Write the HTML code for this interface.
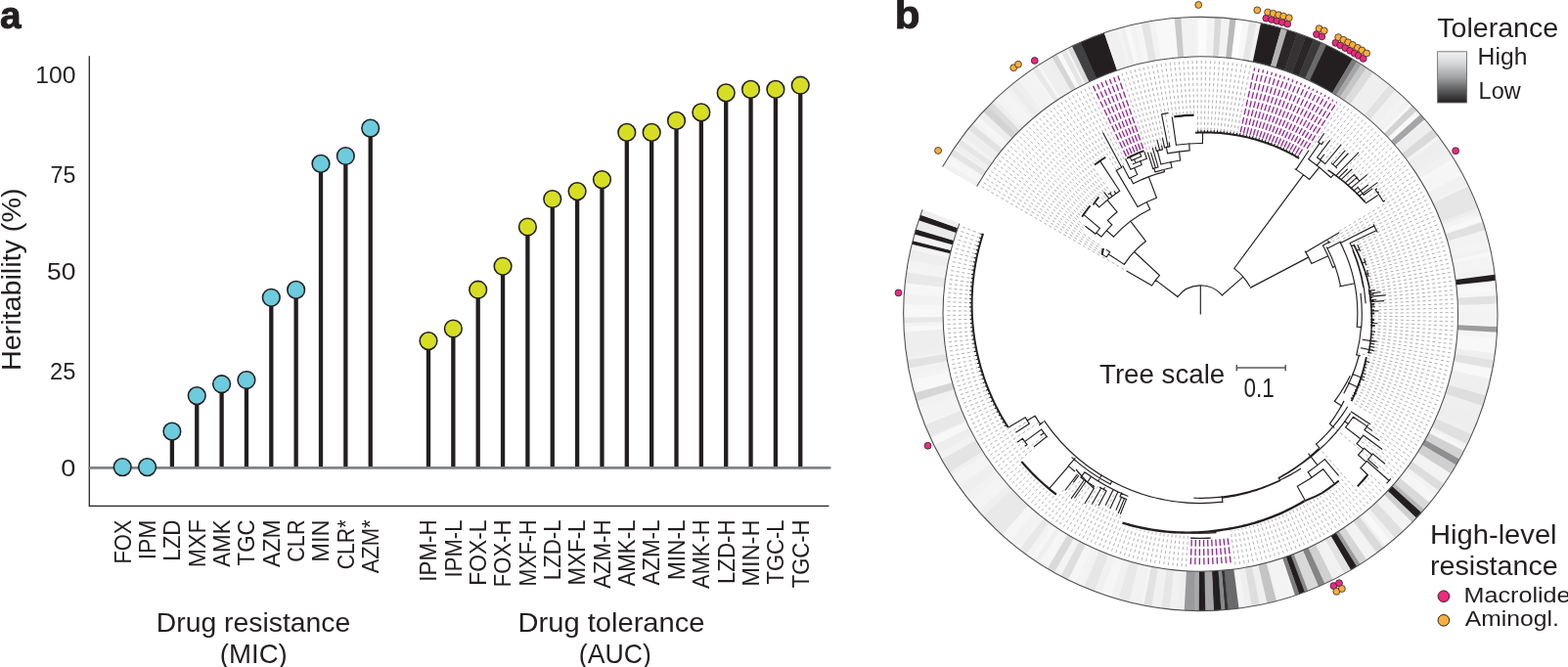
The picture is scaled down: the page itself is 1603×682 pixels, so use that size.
<!DOCTYPE html><html><head><meta charset="utf-8"><title>Heritability and phylogeny</title><style>html,body{margin:0;padding:0;background:#fff;}svg{display:block;}</style></head><body>
<svg width="1603" height="682" viewBox="0 0 1603 682">
<rect width="1603" height="682" fill="#fff"/>
<g font-family="'Liberation Sans', Arial, sans-serif" fill="#231f20">
<path d="M91.3 57.3V517.9M90.7 517.3H847.4" stroke="#231f20" stroke-width="1.25" fill="none"/>
<path d="M91.9 478.3H848.2" stroke="#808285" stroke-width="2.8" stroke-linecap="round" fill="none"/>
<text x="77.4" y="85.3" font-size="23.5" text-anchor="end" font-weight="normal" textLength="41.2" lengthAdjust="spacingAndGlyphs">100</text>
<text x="77.4" y="186.6" font-size="23.5" text-anchor="end" font-weight="normal" textLength="25.8" lengthAdjust="spacingAndGlyphs">75</text>
<text x="77.4" y="285.7" font-size="23.5" text-anchor="end" font-weight="normal" textLength="29.4" lengthAdjust="spacingAndGlyphs">50</text>
<text x="77.4" y="387.8" font-size="23.5" text-anchor="end" font-weight="normal" textLength="26.3" lengthAdjust="spacingAndGlyphs">25</text>
<text x="77.4" y="486.5" font-size="23.5" text-anchor="end" font-weight="normal" textLength="15.1" lengthAdjust="spacingAndGlyphs">0</text>
<text transform="translate(21.4 379.1) rotate(-90)" font-size="27.5" textLength="186.6" lengthAdjust="spacingAndGlyphs">Heritability (%)</text>
<path d="M175.9 441.1V477.1M201.25 404.6V477.1M226.6 392.7V477.1M251.95 388.5V477.1M277.3 304.3V477.1M302.65 296.4V477.1M328 167.4V477.1M353.35 159.5V477.1M378.7 131.1V477.1M438 348.6V477.1M463.35 336V477.1M488.7 296.2V477.1M514.05 272.3V477.1M539.4 232V477.1M564.75 203.5V477.1M590.1 195.6V477.1M615.45 183.6V477.1M640.8 135.4V477.1M666.15 135.4V477.1M691.5 123.4V477.1M716.85 114.9V477.1M742.2 94.9V477.1M767.55 91.4V477.1M792.9 91.4V477.1M818.25 87.2V477.1" stroke="#231f20" stroke-width="4.3" fill="none"/>
<circle cx="125.2" cy="477.6" r="8.85" fill="#6ccbdc" stroke="#231f20" stroke-width="1.55"/>
<circle cx="150.55" cy="477.6" r="8.85" fill="#6ccbdc" stroke="#231f20" stroke-width="1.55"/>
<circle cx="175.9" cy="441.1" r="8.85" fill="#6ccbdc" stroke="#231f20" stroke-width="1.55"/>
<circle cx="201.25" cy="404.6" r="8.85" fill="#6ccbdc" stroke="#231f20" stroke-width="1.55"/>
<circle cx="226.6" cy="392.7" r="8.85" fill="#6ccbdc" stroke="#231f20" stroke-width="1.55"/>
<circle cx="251.95" cy="388.5" r="8.85" fill="#6ccbdc" stroke="#231f20" stroke-width="1.55"/>
<circle cx="277.3" cy="304.3" r="8.85" fill="#6ccbdc" stroke="#231f20" stroke-width="1.55"/>
<circle cx="302.65" cy="296.4" r="8.85" fill="#6ccbdc" stroke="#231f20" stroke-width="1.55"/>
<circle cx="328" cy="167.4" r="8.85" fill="#6ccbdc" stroke="#231f20" stroke-width="1.55"/>
<circle cx="353.35" cy="159.5" r="8.85" fill="#6ccbdc" stroke="#231f20" stroke-width="1.55"/>
<circle cx="378.7" cy="131.1" r="8.85" fill="#6ccbdc" stroke="#231f20" stroke-width="1.55"/>
<circle cx="438" cy="348.6" r="8.85" fill="#d6de23" stroke="#231f20" stroke-width="1.55"/>
<circle cx="463.35" cy="336" r="8.85" fill="#d6de23" stroke="#231f20" stroke-width="1.55"/>
<circle cx="488.7" cy="296.2" r="8.85" fill="#d6de23" stroke="#231f20" stroke-width="1.55"/>
<circle cx="514.05" cy="272.3" r="8.85" fill="#d6de23" stroke="#231f20" stroke-width="1.55"/>
<circle cx="539.4" cy="232" r="8.85" fill="#d6de23" stroke="#231f20" stroke-width="1.55"/>
<circle cx="564.75" cy="203.5" r="8.85" fill="#d6de23" stroke="#231f20" stroke-width="1.55"/>
<circle cx="590.1" cy="195.6" r="8.85" fill="#d6de23" stroke="#231f20" stroke-width="1.55"/>
<circle cx="615.45" cy="183.6" r="8.85" fill="#d6de23" stroke="#231f20" stroke-width="1.55"/>
<circle cx="640.8" cy="135.4" r="8.85" fill="#d6de23" stroke="#231f20" stroke-width="1.55"/>
<circle cx="666.15" cy="135.4" r="8.85" fill="#d6de23" stroke="#231f20" stroke-width="1.55"/>
<circle cx="691.5" cy="123.4" r="8.85" fill="#d6de23" stroke="#231f20" stroke-width="1.55"/>
<circle cx="716.85" cy="114.9" r="8.85" fill="#d6de23" stroke="#231f20" stroke-width="1.55"/>
<circle cx="742.2" cy="94.9" r="8.85" fill="#d6de23" stroke="#231f20" stroke-width="1.55"/>
<circle cx="767.55" cy="91.4" r="8.85" fill="#d6de23" stroke="#231f20" stroke-width="1.55"/>
<circle cx="792.9" cy="91.4" r="8.85" fill="#d6de23" stroke="#231f20" stroke-width="1.55"/>
<circle cx="818.25" cy="87.2" r="8.85" fill="#d6de23" stroke="#231f20" stroke-width="1.55"/>
<text transform="translate(133.5 531.5) rotate(-90)" font-size="23.8" text-anchor="end" textLength="45.1" lengthAdjust="spacingAndGlyphs">FOX</text>
<text transform="translate(158.85 531.5) rotate(-90)" font-size="23.8" text-anchor="end" textLength="40.83" lengthAdjust="spacingAndGlyphs">IPM</text>
<text transform="translate(184.2 531.5) rotate(-90)" font-size="23.8" text-anchor="end" textLength="42.28" lengthAdjust="spacingAndGlyphs">LZD</text>
<text transform="translate(209.55 531.5) rotate(-90)" font-size="23.8" text-anchor="end" textLength="48.67" lengthAdjust="spacingAndGlyphs">MXF</text>
<text transform="translate(234.9 531.5) rotate(-90)" font-size="23.8" text-anchor="end" textLength="48.3" lengthAdjust="spacingAndGlyphs">AMK</text>
<text transform="translate(260.25 531.5) rotate(-90)" font-size="23.8" text-anchor="end" textLength="46.94" lengthAdjust="spacingAndGlyphs">TGC</text>
<text transform="translate(285.6 531.5) rotate(-90)" font-size="23.8" text-anchor="end" textLength="48.39" lengthAdjust="spacingAndGlyphs">AZM</text>
<text transform="translate(310.95 531.5) rotate(-90)" font-size="23.8" text-anchor="end" textLength="43.25" lengthAdjust="spacingAndGlyphs">CLR</text>
<text transform="translate(336.3 531.5) rotate(-90)" font-size="23.8" text-anchor="end" textLength="43.19" lengthAdjust="spacingAndGlyphs">MIN</text>
<text transform="translate(361.65 531.5) rotate(-90)" font-size="23.8" text-anchor="end" textLength="50.82" lengthAdjust="spacingAndGlyphs">CLR*</text>
<text transform="translate(387 531.5) rotate(-90)" font-size="23.8" text-anchor="end" textLength="54.85" lengthAdjust="spacingAndGlyphs">AZM*</text>
<text transform="translate(446.3 531.5) rotate(-90)" font-size="23.8" text-anchor="end" textLength="63.13" lengthAdjust="spacingAndGlyphs">IPM-H</text>
<text transform="translate(471.65 531.5) rotate(-90)" font-size="23.8" text-anchor="end" textLength="58.88" lengthAdjust="spacingAndGlyphs">IPM-L</text>
<text transform="translate(497 531.5) rotate(-90)" font-size="23.8" text-anchor="end" textLength="67.18" lengthAdjust="spacingAndGlyphs">FOX-L</text>
<text transform="translate(522.35 531.5) rotate(-90)" font-size="23.8" text-anchor="end" textLength="68.67" lengthAdjust="spacingAndGlyphs">FOX-H</text>
<text transform="translate(547.7 531.5) rotate(-90)" font-size="23.8" text-anchor="end" textLength="67.93" lengthAdjust="spacingAndGlyphs">MXF-H</text>
<text transform="translate(573.05 531.5) rotate(-90)" font-size="23.8" text-anchor="end" textLength="61.69" lengthAdjust="spacingAndGlyphs">LZD-L</text>
<text transform="translate(598.4 531.5) rotate(-90)" font-size="23.8" text-anchor="end" textLength="66.88" lengthAdjust="spacingAndGlyphs">MXF-L</text>
<text transform="translate(623.75 531.5) rotate(-90)" font-size="23.8" text-anchor="end" textLength="70.24" lengthAdjust="spacingAndGlyphs">AZM-H</text>
<text transform="translate(649.1 531.5) rotate(-90)" font-size="23.8" text-anchor="end" textLength="68.07" lengthAdjust="spacingAndGlyphs">AMK-L</text>
<text transform="translate(674.45 531.5) rotate(-90)" font-size="23.8" text-anchor="end" textLength="67.07" lengthAdjust="spacingAndGlyphs">AZM-L</text>
<text transform="translate(699.8 531.5) rotate(-90)" font-size="23.8" text-anchor="end" textLength="61.52" lengthAdjust="spacingAndGlyphs">MIN-L</text>
<text transform="translate(725.15 531.5) rotate(-90)" font-size="23.8" text-anchor="end" textLength="70.42" lengthAdjust="spacingAndGlyphs">AMK-H</text>
<text transform="translate(750.5 531.5) rotate(-90)" font-size="23.8" text-anchor="end" textLength="65.5" lengthAdjust="spacingAndGlyphs">LZD-H</text>
<text transform="translate(775.85 531.5) rotate(-90)" font-size="23.8" text-anchor="end" textLength="68.13" lengthAdjust="spacingAndGlyphs">MIN-H</text>
<text transform="translate(801.2 531.5) rotate(-90)" font-size="23.8" text-anchor="end" textLength="66.04" lengthAdjust="spacingAndGlyphs">TGC-L</text>
<text transform="translate(826.55 531.5) rotate(-90)" font-size="23.8" text-anchor="end" textLength="69.85" lengthAdjust="spacingAndGlyphs">TGC-H</text>
<text x="259" y="646" font-size="27.5" text-anchor="middle" font-weight="normal" textLength="198.5" lengthAdjust="spacingAndGlyphs">Drug resistance</text>
<text x="259.3" y="678" font-size="27.5" text-anchor="middle" font-weight="normal" textLength="69" lengthAdjust="spacingAndGlyphs">(MIC)</text>
<text x="625" y="646" font-size="27.5" text-anchor="middle" font-weight="normal" textLength="191" lengthAdjust="spacingAndGlyphs">Drug tolerance</text>
<text x="628.8" y="678" font-size="27.5" text-anchor="middle" font-weight="normal" textLength="74" lengthAdjust="spacingAndGlyphs">(AUC)</text>
<text x="0" y="28.5" font-size="39" text-anchor="start" font-weight="bold" textLength="21.6" lengthAdjust="spacingAndGlyphs" stroke="#231f20" stroke-width="0.9">a</text>
</g>
<g>
<path d="M963.58 170.58A303.6 303.6 0 1 1 943.02 214.43L980.85 228.61A263.2 263.2 0 1 0 998.68 190.6Z" fill="#f1f2f2"/>
<path d="M963.5 170.72A303.6 303.6 0 0 1 966.33 165.86L1001.06 186.51A263.2 263.2 0 0 0 998.61 190.72Z" fill="#f1f1f1"/>
<path d="M966.17 166.14A303.6 303.6 0 0 1 970.48 159.08L1004.66 180.63A263.2 263.2 0 0 0 1000.92 186.74Z" fill="#f6f6f6"/>
<path d="M970.31 159.35A303.6 303.6 0 0 1 972.77 155.51L1006.64 177.54A263.2 263.2 0 0 0 1004.51 180.86Z" fill="#f3f3f3"/>
<path d="M972.59 155.78A303.6 303.6 0 0 1 975.69 151.1L1009.17 173.71A263.2 263.2 0 0 0 1006.49 177.77Z" fill="#f6f6f6"/>
<path d="M975.52 151.36A303.6 303.6 0 0 1 981.78 142.42L1014.45 166.18A263.2 263.2 0 0 0 1009.02 173.93Z" fill="#efefef"/>
<path d="M981.59 142.68A303.6 303.6 0 0 1 984.29 139.01L1016.63 163.23A263.2 263.2 0 0 0 1014.29 166.41Z" fill="#f3f3f3"/>
<path d="M984.1 139.26A303.6 303.6 0 0 1 989.14 132.71L1020.83 157.77A263.2 263.2 0 0 0 1016.46 163.45Z" fill="#eeeeee"/>
<path d="M988.94 132.96A303.6 303.6 0 0 1 991.79 129.4L1023.13 154.9A263.2 263.2 0 0 0 1020.66 157.98Z" fill="#efefef"/>
<path d="M991.59 129.65A303.6 303.6 0 0 1 994.49 126.13L1025.47 152.06A263.2 263.2 0 0 0 1022.96 155.11Z" fill="#eeeeee"/>
<path d="M994.29 126.38A303.6 303.6 0 0 1 997.23 122.9L1027.85 149.26A263.2 263.2 0 0 0 1025.29 152.28Z" fill="#f3f3f3"/>
<path d="M997.03 123.14A303.6 303.6 0 0 1 1000.73 118.92L1030.88 145.81A263.2 263.2 0 0 0 1027.67 149.47Z" fill="#f6f6f6"/>
<path d="M1000.51 119.15A303.6 303.6 0 0 1 1007.92 111.13L1037.11 139.06A263.2 263.2 0 0 0 1030.69 146.01Z" fill="#eeeeee"/>
<path d="M1007.7 111.36A303.6 303.6 0 0 1 1010.87 108.09L1039.67 136.42A263.2 263.2 0 0 0 1036.92 139.26Z" fill="#efefef"/>
<path d="M1010.65 108.32A303.6 303.6 0 0 1 1013.86 105.09L1042.26 133.82A263.2 263.2 0 0 0 1039.48 136.62Z" fill="#f1f1f1"/>
<path d="M1013.64 105.31A303.6 303.6 0 0 1 1017.66 101.4L1045.56 130.62A263.2 263.2 0 0 0 1042.07 134.01Z" fill="#eeeeee"/>
<path d="M1017.43 101.62A303.6 303.6 0 0 1 1021.53 97.77L1048.91 127.48A263.2 263.2 0 0 0 1045.36 130.81Z" fill="#f3f3f3"/>
<path d="M1021.29 97.99A303.6 303.6 0 0 1 1029.44 90.73L1055.77 121.37A263.2 263.2 0 0 0 1048.71 127.66Z" fill="#f4f4f4"/>
<path d="M1029.2 90.93A303.6 303.6 0 0 1 1037.6 83.96L1062.84 115.5A263.2 263.2 0 0 0 1055.56 121.55Z" fill="#f1f1f1"/>
<path d="M1037.35 84.16A303.6 303.6 0 0 1 1040.93 81.34L1065.73 113.23A263.2 263.2 0 0 0 1062.63 115.68Z" fill="#efefef"/>
<path d="M1040.68 81.53A303.6 303.6 0 0 1 1045.14 78.12L1069.38 110.44A263.2 263.2 0 0 0 1065.51 113.4Z" fill="#f3f3f3"/>
<path d="M1044.89 78.31A303.6 303.6 0 0 1 1053.73 71.91L1076.82 105.06A263.2 263.2 0 0 0 1069.16 110.61Z" fill="#f3f3f3"/>
<path d="M1053.47 72.09A303.6 303.6 0 0 1 1062.53 66.01L1084.45 99.94A263.2 263.2 0 0 0 1076.6 105.21Z" fill="#f6f6f6"/>
<path d="M1062.26 66.18A303.6 303.6 0 0 1 1071.53 60.41L1092.25 95.09A263.2 263.2 0 0 0 1084.22 100.09Z" fill="#efefef"/>
<path d="M1071.25 60.57A303.6 303.6 0 0 1 1078.4 56.42L1098.21 91.63A263.2 263.2 0 0 0 1092.02 95.23Z" fill="#eeeeee"/>
<path d="M1078.12 56.58A303.6 303.6 0 0 1 1092.45 48.99L1110.4 85.19A263.2 263.2 0 0 0 1097.97 91.76Z" fill="#f8f8f8"/>
<path d="M1092.17 49.13A303.6 303.6 0 0 1 1099.62 45.55L1116.61 82.21A263.2 263.2 0 0 0 1110.15 85.31Z" fill="#f2f2f2"/>
<path d="M1099.33 45.69A303.6 303.6 0 0 1 1104.44 43.37L1120.79 80.31A263.2 263.2 0 0 0 1116.36 82.32Z" fill="#f4f4f4"/>
<path d="M1104.15 43.5A303.6 303.6 0 0 1 1109.31 41.27L1125.01 78.49A263.2 263.2 0 0 0 1120.54 80.42Z" fill="#f1f1f1"/>
<path d="M1109.02 41.39A303.6 303.6 0 0 1 1121.62 36.39L1135.69 74.26A263.2 263.2 0 0 0 1124.76 78.6Z" fill="#efefef"/>
<path d="M1121.32 36.5A303.6 303.6 0 0 1 1125.61 34.94L1139.14 73A263.2 263.2 0 0 0 1135.43 74.36Z" fill="#f4f4f4"/>
<path d="M1125.31 35.04A303.6 303.6 0 0 1 1135.65 31.56L1147.85 70.08A263.2 263.2 0 0 0 1138.88 73.1Z" fill="#f2f2f2"/>
<path d="M1135.35 31.66A303.6 303.6 0 0 1 1140.72 30.01L1152.24 68.73A263.2 263.2 0 0 0 1147.58 70.16Z" fill="#f2f2f2"/>
<path d="M1140.41 30.1A303.6 303.6 0 0 1 1145.81 28.54L1156.65 67.46A263.2 263.2 0 0 0 1151.97 68.81Z" fill="#f3f3f3"/>
<path d="M1145.5 28.63A303.6 303.6 0 0 1 1149.9 27.43L1160.2 66.5A263.2 263.2 0 0 0 1156.39 67.53Z" fill="#eeeeee"/>
<path d="M1149.59 27.51A303.6 303.6 0 0 1 1155.04 26.13L1164.65 65.36A263.2 263.2 0 0 0 1159.93 66.57Z" fill="#f8f8f8"/>
<path d="M1154.73 26.2A303.6 303.6 0 0 1 1160.19 24.91L1169.12 64.31A263.2 263.2 0 0 0 1164.38 65.43Z" fill="#f2f2f2"/>
<path d="M1159.88 24.98A303.6 303.6 0 0 1 1167.97 23.25L1175.86 62.88A263.2 263.2 0 0 0 1168.85 64.37Z" fill="#f6f6f6"/>
<path d="M1167.65 23.32A303.6 303.6 0 0 1 1181.01 20.95L1187.17 60.88A263.2 263.2 0 0 0 1175.59 62.93Z" fill="#f3f3f3"/>
<path d="M1180.7 21A303.6 303.6 0 0 1 1196.78 18.94L1200.84 59.13A263.2 263.2 0 0 0 1186.9 60.92Z" fill="#f8f8f8"/>
<path d="M1196.46 18.97A303.6 303.6 0 0 1 1202.05 18.45L1205.41 58.71A263.2 263.2 0 0 0 1200.56 59.16Z" fill="#f8f8f8"/>
<path d="M1201.74 18.48A303.6 303.6 0 0 1 1212.63 17.75L1214.58 58.11A263.2 263.2 0 0 0 1205.14 58.73Z" fill="#f2f2f2"/>
<path d="M1212.31 17.77A303.6 303.6 0 0 1 1223.22 17.43L1223.76 57.82A263.2 263.2 0 0 0 1214.31 58.12Z" fill="#f2f2f2"/>
<path d="M1222.9 17.43A303.6 303.6 0 0 1 1227.46 17.4L1227.44 57.8A263.2 263.2 0 0 0 1223.49 57.83Z" fill="#f3f3f3"/>
<path d="M1227.14 17.4A303.6 303.6 0 0 1 1232.76 17.45L1232.03 57.84A263.2 263.2 0 0 0 1227.16 57.8Z" fill="#f2f2f2"/>
<path d="M1232.44 17.44A303.6 303.6 0 0 1 1245.99 17.98L1243.51 58.3A263.2 263.2 0 0 0 1231.76 57.84Z" fill="#f3f3f3"/>
<path d="M1245.68 17.96A303.6 303.6 0 0 1 1250.22 18.27L1247.17 58.55A263.2 263.2 0 0 0 1243.23 58.28Z" fill="#f4f4f4"/>
<path d="M1249.91 18.24A303.6 303.6 0 0 1 1263.41 19.55L1258.6 59.67A263.2 263.2 0 0 0 1246.9 58.53Z" fill="#f2f2f2"/>
<path d="M1263.09 19.52A303.6 303.6 0 0 1 1268.66 20.23L1263.16 60.25A263.2 263.2 0 0 0 1258.33 59.64Z" fill="#eeeeee"/>
<path d="M1268.35 20.19A303.6 303.6 0 0 1 1281.74 22.32L1274.5 62.07A263.2 263.2 0 0 0 1262.88 60.22Z" fill="#f8f8f8"/>
<path d="M1281.43 22.26A303.6 303.6 0 0 1 1285.91 23.11L1278.11 62.75A263.2 263.2 0 0 0 1274.23 62.02Z" fill="#f2f2f2"/>
<path d="M1285.59 23.05A303.6 303.6 0 0 1 1291.1 24.18L1282.61 63.68A263.2 263.2 0 0 0 1277.84 62.7Z" fill="#f1f1f1"/>
<path d="M1290.78 24.11A303.6 303.6 0 0 1 1301.42 26.59L1291.55 65.76A263.2 263.2 0 0 0 1282.34 63.62Z" fill="#f3f3f3"/>
<path d="M1301.11 26.51A303.6 303.6 0 0 1 1309.1 28.63L1298.21 67.53A263.2 263.2 0 0 0 1291.29 65.7Z" fill="#f6f6f6"/>
<path d="M1308.79 28.54A303.6 303.6 0 0 1 1314.19 30.1L1302.63 68.81A263.2 263.2 0 0 0 1297.95 67.46Z" fill="#f4f4f4"/>
<path d="M1313.88 30.01A303.6 303.6 0 0 1 1319.25 31.66L1307.02 70.16A263.2 263.2 0 0 0 1302.36 68.73Z" fill="#efefef"/>
<path d="M1318.95 31.56A303.6 303.6 0 0 1 1326.79 34.17L1313.55 72.33A263.2 263.2 0 0 0 1306.75 70.08Z" fill="#eeeeee"/>
<path d="M1326.49 34.06A303.6 303.6 0 0 1 1341.67 39.77L1326.45 77.19A263.2 263.2 0 0 0 1313.29 72.24Z" fill="#f2f2f2"/>
<path d="M1341.37 39.65A303.6 303.6 0 0 1 1345.58 41.39L1329.84 78.6A263.2 263.2 0 0 0 1326.19 77.09Z" fill="#f1f1f1"/>
<path d="M1345.29 41.27A303.6 303.6 0 0 1 1352.86 44.58L1336.15 81.37A263.2 263.2 0 0 0 1329.59 78.49Z" fill="#eeeeee"/>
<path d="M1352.57 44.45A303.6 303.6 0 0 1 1362.43 49.13L1344.45 85.31A263.2 263.2 0 0 0 1335.9 81.25Z" fill="#f4f4f4"/>
<path d="M1362.15 48.99A303.6 303.6 0 0 1 1367.16 51.53L1348.55 87.39A263.2 263.2 0 0 0 1344.2 85.19Z" fill="#eeeeee"/>
<path d="M1366.88 51.39A303.6 303.6 0 0 1 1381.07 59.22L1360.61 94.06A263.2 263.2 0 0 0 1348.3 87.26Z" fill="#f4f4f4"/>
<path d="M1380.79 59.06A303.6 303.6 0 0 1 1392.34 66.18L1370.38 100.09A263.2 263.2 0 0 0 1360.37 93.92Z" fill="#eeeeee"/>
<path d="M1392.07 66.01A303.6 303.6 0 0 1 1396.76 69.1L1374.21 102.62A263.2 263.2 0 0 0 1370.15 99.94Z" fill="#eeeeee"/>
<path d="M1396.5 68.92A303.6 303.6 0 0 1 1401.13 72.09L1378 105.21A263.2 263.2 0 0 0 1373.98 102.46Z" fill="#f1f1f1"/>
<path d="M1400.87 71.91A303.6 303.6 0 0 1 1404.59 74.54L1381 107.34A263.2 263.2 0 0 0 1377.78 105.06Z" fill="#f1f1f1"/>
<path d="M1404.33 74.36A303.6 303.6 0 0 1 1408.87 77.68L1384.71 110.06A263.2 263.2 0 0 0 1380.78 107.18Z" fill="#efefef"/>
<path d="M1408.61 77.49A303.6 303.6 0 0 1 1419.31 85.83L1393.76 117.12A263.2 263.2 0 0 0 1384.48 109.89Z" fill="#efefef"/>
<path d="M1419.06 85.63A303.6 303.6 0 0 1 1422.57 88.53L1396.59 119.47A263.2 263.2 0 0 0 1393.54 116.95Z" fill="#f2f2f2"/>
<path d="M1422.33 88.33A303.6 303.6 0 0 1 1434.47 99.07L1406.9 128.6A263.2 263.2 0 0 0 1396.38 119.29Z" fill="#f1f1f1"/>
<path d="M1434.24 98.85A303.6 303.6 0 0 1 1438.31 102.72L1410.23 131.77A263.2 263.2 0 0 0 1406.7 128.41Z" fill="#f4f4f4"/>
<path d="M1438.08 102.5A303.6 303.6 0 0 1 1441.34 105.69L1412.86 134.34A263.2 263.2 0 0 0 1410.03 131.57Z" fill="#f1f1f1"/>
<path d="M1441.11 105.46A303.6 303.6 0 0 1 1446.9 111.36L1417.68 139.26A263.2 263.2 0 0 0 1412.66 134.14Z" fill="#f8f8f8"/>
<path d="M1446.68 111.13A303.6 303.6 0 0 1 1454.09 119.15L1423.91 146.01A263.2 263.2 0 0 0 1417.49 139.06Z" fill="#f8f8f8"/>
<path d="M1453.87 118.92A303.6 303.6 0 0 1 1457.57 123.14L1426.93 149.47A263.2 263.2 0 0 0 1423.72 145.81Z" fill="#f6f6f6"/>
<path d="M1457.37 122.9A303.6 303.6 0 0 1 1462.67 129.24L1431.35 154.76A263.2 263.2 0 0 0 1426.75 149.26Z" fill="#eeeeee"/>
<path d="M1462.47 128.99A303.6 303.6 0 0 1 1467.61 135.47L1435.63 160.16A263.2 263.2 0 0 0 1431.18 154.54Z" fill="#eeeeee"/>
<path d="M1467.42 135.21A303.6 303.6 0 0 1 1472.39 141.82L1439.77 165.66A263.2 263.2 0 0 0 1435.47 159.94Z" fill="#f3f3f3"/>
<path d="M1472.2 141.56A303.6 303.6 0 0 1 1476.99 148.3L1443.77 171.28A263.2 263.2 0 0 0 1439.61 165.44Z" fill="#eeeeee"/>
<path d="M1476.81 148.04A303.6 303.6 0 0 1 1479.38 151.8L1445.84 174.32A263.2 263.2 0 0 0 1443.61 171.05Z" fill="#efefef"/>
<path d="M1479.2 151.54A303.6 303.6 0 0 1 1481.72 155.34L1447.86 177.38A263.2 263.2 0 0 0 1445.68 174.09Z" fill="#efefef"/>
<path d="M1481.54 155.07A303.6 303.6 0 0 1 1485.97 162.05L1451.55 183.2A263.2 263.2 0 0 0 1447.71 177.15Z" fill="#f1f1f1"/>
<path d="M1485.8 161.78A303.6 303.6 0 0 1 1488.16 165.68L1453.45 186.35A263.2 263.2 0 0 0 1451.4 182.97Z" fill="#f8f8f8"/>
<path d="M1488 165.41A303.6 303.6 0 0 1 1493.42 174.88L1458.01 194.32A263.2 263.2 0 0 0 1453.31 186.11Z" fill="#f6f6f6"/>
<path d="M1493.27 174.6A303.6 303.6 0 0 1 1495.44 178.61L1459.76 197.56A263.2 263.2 0 0 0 1457.88 194.08Z" fill="#f6f6f6"/>
<path d="M1495.29 178.33A303.6 303.6 0 0 1 1500.24 188.05L1463.92 205.74A263.2 263.2 0 0 0 1459.63 197.31Z" fill="#f1f1f1"/>
<path d="M1500.1 187.77A303.6 303.6 0 0 1 1504.72 197.66L1467.8 214.07A263.2 263.2 0 0 0 1463.8 205.5Z" fill="#f3f3f3"/>
<path d="M1504.59 197.37A303.6 303.6 0 0 1 1506.83 202.52L1469.63 218.29A263.2 263.2 0 0 0 1467.69 213.82Z" fill="#f6f6f6"/>
<path d="M1506.7 202.23A303.6 303.6 0 0 1 1508.45 206.43L1471.04 221.68A263.2 263.2 0 0 0 1469.52 218.03Z" fill="#efefef"/>
<path d="M1508.33 206.14A303.6 303.6 0 0 1 1512.28 216.32L1474.36 230.25A263.2 263.2 0 0 0 1470.94 221.42Z" fill="#eeeeee"/>
<path d="M1512.17 216.02A303.6 303.6 0 0 1 1514.06 221.31L1475.91 234.57A263.2 263.2 0 0 0 1474.26 229.99Z" fill="#f4f4f4"/>
<path d="M1513.96 221.01A303.6 303.6 0 0 1 1515.76 226.33L1477.38 238.92A263.2 263.2 0 0 0 1475.81 234.31Z" fill="#f8f8f8"/>
<path d="M1515.66 226.02A303.6 303.6 0 0 1 1518.14 233.91L1479.44 245.5A263.2 263.2 0 0 0 1477.29 238.66Z" fill="#f3f3f3"/>
<path d="M1518.05 233.61A303.6 303.6 0 0 1 1519.33 237.98L1480.47 249.03A263.2 263.2 0 0 0 1479.36 245.23Z" fill="#f2f2f2"/>
<path d="M1519.24 237.67A303.6 303.6 0 0 1 1521.4 245.65L1482.27 255.68A263.2 263.2 0 0 0 1480.39 248.76Z" fill="#f2f2f2"/>
<path d="M1521.32 245.34A303.6 303.6 0 0 1 1523.27 253.38L1483.89 262.37A263.2 263.2 0 0 0 1482.2 255.41Z" fill="#f4f4f4"/>
<path d="M1523.2 253.07A303.6 303.6 0 0 1 1524.19 257.52L1484.68 265.96A263.2 263.2 0 0 0 1483.83 262.11Z" fill="#f1f1f1"/>
<path d="M1524.12 257.2A303.6 303.6 0 0 1 1525.05 261.67L1485.42 269.56A263.2 263.2 0 0 0 1484.62 265.69Z" fill="#f8f8f8"/>
<path d="M1524.98 261.35A303.6 303.6 0 0 1 1527.35 274.71L1487.42 280.87A263.2 263.2 0 0 0 1485.37 269.29Z" fill="#f4f4f4"/>
<path d="M1527.3 274.4A303.6 303.6 0 0 1 1528.46 282.58L1488.38 287.69A263.2 263.2 0 0 0 1487.38 280.6Z" fill="#f1f1f1"/>
<path d="M1528.42 282.27A303.6 303.6 0 0 1 1529.62 293.11L1489.39 296.83A263.2 263.2 0 0 0 1488.35 287.42Z" fill="#f6f6f6"/>
<path d="M1529.59 292.8A303.6 303.6 0 0 1 1530.06 298.39L1489.77 301.4A263.2 263.2 0 0 0 1489.36 296.55Z" fill="#f8f8f8"/>
<path d="M1530.03 298.08A303.6 303.6 0 0 1 1530.41 303.68L1490.07 305.99A263.2 263.2 0 0 0 1489.75 301.13Z" fill="#f6f6f6"/>
<path d="M1530.39 303.36A303.6 303.6 0 0 1 1530.9 319.57L1490.5 319.76A263.2 263.2 0 0 0 1490.06 305.71Z" fill="#f4f4f4"/>
<path d="M1530.89 319.25A303.6 303.6 0 0 1 1530.67 332.81L1490.3 331.24A263.2 263.2 0 0 0 1490.5 319.48Z" fill="#f3f3f3"/>
<path d="M1530.68 332.5A303.6 303.6 0 0 1 1529.87 346.03L1489.6 342.7A263.2 263.2 0 0 0 1490.31 330.97Z" fill="#f4f4f4"/>
<path d="M1529.89 345.72A303.6 303.6 0 0 1 1528.81 356.58L1488.69 351.84A263.2 263.2 0 0 0 1489.63 342.43Z" fill="#f8f8f8"/>
<path d="M1528.85 356.26A303.6 303.6 0 0 1 1528.14 361.84L1488.11 356.4A263.2 263.2 0 0 0 1488.72 351.57Z" fill="#f8f8f8"/>
<path d="M1528.18 361.52A303.6 303.6 0 0 1 1525.59 377.52L1485.9 370A263.2 263.2 0 0 0 1488.15 356.13Z" fill="#efefef"/>
<path d="M1525.65 377.21A303.6 303.6 0 0 1 1523.44 387.9L1484.03 379A263.2 263.2 0 0 0 1485.95 369.73Z" fill="#f8f8f8"/>
<path d="M1523.51 387.59A303.6 303.6 0 0 1 1520.24 400.75L1481.26 390.14A263.2 263.2 0 0 0 1484.09 378.73Z" fill="#efefef"/>
<path d="M1520.32 400.45A303.6 303.6 0 0 1 1517.28 410.93L1478.69 398.96A263.2 263.2 0 0 0 1481.33 389.88Z" fill="#efefef"/>
<path d="M1517.37 410.63A303.6 303.6 0 0 1 1512.17 425.98L1474.26 412.01A263.2 263.2 0 0 0 1478.77 398.7Z" fill="#efefef"/>
<path d="M1512.28 425.68A303.6 303.6 0 0 1 1506.29 440.75L1469.16 424.81A263.2 263.2 0 0 0 1474.36 411.75Z" fill="#eeeeee"/>
<path d="M1506.41 440.45A303.6 303.6 0 0 1 1500.8 452.8L1464.4 435.26A263.2 263.2 0 0 0 1469.27 424.56Z" fill="#efefef"/>
<path d="M1500.94 452.52A303.6 303.6 0 0 1 1498.46 457.56L1462.37 439.38A263.2 263.2 0 0 0 1464.52 435.01Z" fill="#f2f2f2"/>
<path d="M1498.6 457.27A303.6 303.6 0 0 1 1496.03 462.27L1460.27 443.47A263.2 263.2 0 0 0 1462.5 439.14Z" fill="#f6f6f6"/>
<path d="M1496.18 461.99A303.6 303.6 0 0 1 1494.03 466.01L1458.54 446.71A263.2 263.2 0 0 0 1460.4 443.22Z" fill="#f4f4f4"/>
<path d="M1494.18 465.73A303.6 303.6 0 0 1 1490.15 472.94L1455.17 452.72A263.2 263.2 0 0 0 1458.67 446.47Z" fill="#f4f4f4"/>
<path d="M1490.3 472.66A303.6 303.6 0 0 1 1487.45 477.5L1452.84 456.68A263.2 263.2 0 0 0 1455.31 452.48Z" fill="#f8f8f8"/>
<path d="M1487.62 477.23A303.6 303.6 0 0 1 1483.27 484.26L1449.21 462.53A263.2 263.2 0 0 0 1452.98 456.44Z" fill="#f8f8f8"/>
<path d="M1483.44 483.99A303.6 303.6 0 0 1 1480.38 488.7L1446.7 466.38A263.2 263.2 0 0 0 1449.35 462.3Z" fill="#f3f3f3"/>
<path d="M1480.56 488.44A303.6 303.6 0 0 1 1477.41 493.09L1444.13 470.19A263.2 263.2 0 0 0 1446.85 466.15Z" fill="#f3f3f3"/>
<path d="M1477.59 492.83A303.6 303.6 0 0 1 1474.37 497.43L1441.5 473.95A263.2 263.2 0 0 0 1444.29 469.96Z" fill="#f2f2f2"/>
<path d="M1474.56 497.17A303.6 303.6 0 0 1 1471.26 501.72L1438.79 477.67A263.2 263.2 0 0 0 1441.66 473.73Z" fill="#f8f8f8"/>
<path d="M1471.45 501.46A303.6 303.6 0 0 1 1468.07 505.95L1436.03 481.34A263.2 263.2 0 0 0 1438.96 477.45Z" fill="#f2f2f2"/>
<path d="M1468.26 505.69A303.6 303.6 0 0 1 1461.46 514.24L1430.3 488.52A263.2 263.2 0 0 0 1436.19 481.12Z" fill="#f6f6f6"/>
<path d="M1461.67 513.99A303.6 303.6 0 0 1 1456.33 520.3L1425.85 493.78A263.2 263.2 0 0 0 1430.48 488.31Z" fill="#f8f8f8"/>
<path d="M1456.53 520.06A303.6 303.6 0 0 1 1445.58 532.01L1416.53 503.93A263.2 263.2 0 0 0 1426.03 493.57Z" fill="#f3f3f3"/>
<path d="M1445.8 531.78A303.6 303.6 0 0 1 1434.24 543.15L1406.7 513.59A263.2 263.2 0 0 0 1416.73 503.73Z" fill="#f3f3f3"/>
<path d="M1434.47 542.93A303.6 303.6 0 0 1 1428.35 548.49L1401.6 518.22A263.2 263.2 0 0 0 1406.9 513.4Z" fill="#efefef"/>
<path d="M1428.59 548.28A303.6 303.6 0 0 1 1422.33 553.67L1396.38 522.71A263.2 263.2 0 0 0 1401.8 518.03Z" fill="#f1f1f1"/>
<path d="M1422.57 553.47A303.6 303.6 0 0 1 1416.17 558.7L1391.04 527.07A263.2 263.2 0 0 0 1396.59 522.53Z" fill="#f8f8f8"/>
<path d="M1416.42 558.5A303.6 303.6 0 0 1 1412.83 561.31L1388.14 529.33A263.2 263.2 0 0 0 1391.25 526.9Z" fill="#eeeeee"/>
<path d="M1413.09 561.12A303.6 303.6 0 0 1 1406.48 566.09L1382.64 533.47A263.2 263.2 0 0 0 1388.36 529.17Z" fill="#eeeeee"/>
<path d="M1406.74 565.9A303.6 303.6 0 0 1 1395.62 573.67L1373.22 540.05A263.2 263.2 0 0 0 1382.86 533.31Z" fill="#f3f3f3"/>
<path d="M1395.88 573.49A303.6 303.6 0 0 1 1384.44 580.77L1363.53 546.2A263.2 263.2 0 0 0 1373.45 539.89Z" fill="#f1f1f1"/>
<path d="M1384.71 580.61A303.6 303.6 0 0 1 1379.88 583.47L1359.58 548.55A263.2 263.2 0 0 0 1363.76 546.06Z" fill="#f1f1f1"/>
<path d="M1380.15 583.31A303.6 303.6 0 0 1 1376.2 585.58L1356.39 550.37A263.2 263.2 0 0 0 1359.81 548.41Z" fill="#f1f1f1"/>
<path d="M1376.48 585.42A303.6 303.6 0 0 1 1366.88 590.61L1348.3 554.74A263.2 263.2 0 0 0 1356.63 550.24Z" fill="#f2f2f2"/>
<path d="M1367.16 590.47A303.6 303.6 0 0 1 1352.57 597.55L1335.9 560.75A263.2 263.2 0 0 0 1348.55 554.61Z" fill="#f1f1f1"/>
<path d="M1352.86 597.42A303.6 303.6 0 0 1 1342.85 601.75L1327.47 564.39A263.2 263.2 0 0 0 1336.15 560.63Z" fill="#f2f2f2"/>
<path d="M1343.14 601.63A303.6 303.6 0 0 1 1330.49 606.53L1316.76 568.53A263.2 263.2 0 0 0 1327.73 564.29Z" fill="#f8f8f8"/>
<path d="M1330.79 606.42A303.6 303.6 0 0 1 1325.49 608.28L1312.42 570.05A263.2 263.2 0 0 0 1317.02 568.44Z" fill="#f1f1f1"/>
<path d="M1325.79 608.18A303.6 303.6 0 0 1 1321.47 609.63L1308.94 571.22A263.2 263.2 0 0 0 1312.69 569.96Z" fill="#f6f6f6"/>
<path d="M1321.77 609.53A303.6 303.6 0 0 1 1306.24 614.16L1295.73 575.15A263.2 263.2 0 0 0 1309.2 571.13Z" fill="#f3f3f3"/>
<path d="M1306.54 614.08A303.6 303.6 0 0 1 1295.96 616.74L1286.82 577.38A263.2 263.2 0 0 0 1296 575.08Z" fill="#f1f1f1"/>
<path d="M1296.27 616.66A303.6 303.6 0 0 1 1288.19 618.43L1280.09 578.85A263.2 263.2 0 0 0 1287.09 577.32Z" fill="#efefef"/>
<path d="M1288.5 618.37A303.6 303.6 0 0 1 1272.54 621.21L1266.52 581.26A263.2 263.2 0 0 0 1280.36 578.8Z" fill="#efefef"/>
<path d="M1272.86 621.16A303.6 303.6 0 0 1 1268.35 621.81L1262.88 581.78A263.2 263.2 0 0 0 1266.79 581.22Z" fill="#f4f4f4"/>
<path d="M1268.66 621.77A303.6 303.6 0 0 1 1263.09 622.48L1258.33 582.36A263.2 263.2 0 0 0 1263.16 581.75Z" fill="#f4f4f4"/>
<path d="M1263.41 622.45A303.6 303.6 0 0 1 1252.55 623.55L1249.19 583.29A263.2 263.2 0 0 0 1258.6 582.33Z" fill="#efefef"/>
<path d="M1252.86 623.52A303.6 303.6 0 0 1 1236.68 624.46L1235.43 584.07A263.2 263.2 0 0 0 1249.46 583.27Z" fill="#f8f8f8"/>
<path d="M1237 624.45A303.6 303.6 0 0 1 1231.38 624.57L1230.84 584.18A263.2 263.2 0 0 0 1235.71 584.07Z" fill="#eeeeee"/>
<path d="M1231.7 624.57A303.6 303.6 0 0 1 1215.49 624.37L1217.06 584A263.2 263.2 0 0 0 1231.11 584.17Z" fill="#f1f1f1"/>
<path d="M1215.8 624.38A303.6 303.6 0 0 1 1211.25 624.18L1213.39 583.83A263.2 263.2 0 0 0 1217.33 584.01Z" fill="#f8f8f8"/>
<path d="M1211.57 624.19A303.6 303.6 0 0 1 1203.32 623.65L1206.51 583.38A263.2 263.2 0 0 0 1213.66 583.85Z" fill="#eeeeee"/>
<path d="M1203.64 623.68A303.6 303.6 0 0 1 1187.51 621.98L1192.81 581.93A263.2 263.2 0 0 0 1206.79 583.4Z" fill="#f1f1f1"/>
<path d="M1187.83 622.02A303.6 303.6 0 0 1 1177.03 620.41L1183.72 580.57A263.2 263.2 0 0 0 1193.08 581.97Z" fill="#f1f1f1"/>
<path d="M1177.35 620.46A303.6 303.6 0 0 1 1166.62 618.47L1174.69 578.89A263.2 263.2 0 0 0 1184 580.61Z" fill="#f6f6f6"/>
<path d="M1166.93 618.54A303.6 303.6 0 0 1 1151.13 614.89L1161.27 575.78A263.2 263.2 0 0 0 1174.96 578.94Z" fill="#f2f2f2"/>
<path d="M1151.44 614.97A303.6 303.6 0 0 1 1135.85 610.5L1148.02 571.98A263.2 263.2 0 0 0 1161.53 575.85Z" fill="#f1f1f1"/>
<path d="M1136.16 610.6A303.6 303.6 0 0 1 1125.81 607.13L1139.31 569.06A263.2 263.2 0 0 0 1148.29 572.06Z" fill="#f6f6f6"/>
<path d="M1126.11 607.24A303.6 303.6 0 0 1 1110.97 601.43L1126.45 564.11A263.2 263.2 0 0 0 1139.57 569.15Z" fill="#f1f1f1"/>
<path d="M1111.26 601.55A303.6 303.6 0 0 1 1106.09 599.36L1122.22 562.32A263.2 263.2 0 0 0 1126.71 564.22Z" fill="#f1f1f1"/>
<path d="M1106.39 599.48A303.6 303.6 0 0 1 1098.85 596.09L1115.94 559.48A263.2 263.2 0 0 0 1122.48 562.43Z" fill="#f3f3f3"/>
<path d="M1099.14 596.22A303.6 303.6 0 0 1 1089.33 591.44L1107.69 555.45A263.2 263.2 0 0 0 1116.19 559.6Z" fill="#f6f6f6"/>
<path d="M1089.61 591.58A303.6 303.6 0 0 1 1084.63 588.99L1103.61 553.33A263.2 263.2 0 0 0 1107.93 555.58Z" fill="#f2f2f2"/>
<path d="M1084.91 589.14A303.6 303.6 0 0 1 1070.8 581.15L1091.62 546.54A263.2 263.2 0 0 0 1103.86 553.46Z" fill="#f3f3f3"/>
<path d="M1071.07 581.32A303.6 303.6 0 0 1 1061.81 575.53L1083.84 541.66A263.2 263.2 0 0 0 1091.86 546.68Z" fill="#f6f6f6"/>
<path d="M1062.08 575.71A303.6 303.6 0 0 1 1057.4 572.61L1080.01 539.13A263.2 263.2 0 0 0 1084.07 541.81Z" fill="#efefef"/>
<path d="M1057.66 572.78A303.6 303.6 0 0 1 1053.03 569.6L1076.22 536.52A263.2 263.2 0 0 0 1080.23 539.28Z" fill="#f6f6f6"/>
<path d="M1053.29 569.79A303.6 303.6 0 0 1 1040.26 560.14L1065.15 528.32A263.2 263.2 0 0 0 1076.45 536.68Z" fill="#f3f3f3"/>
<path d="M1040.51 560.34A303.6 303.6 0 0 1 1032.03 553.47L1058.01 522.53A263.2 263.2 0 0 0 1065.37 528.49Z" fill="#f2f2f2"/>
<path d="M1032.27 553.67A303.6 303.6 0 0 1 1024.03 546.51L1051.08 516.5A263.2 263.2 0 0 0 1058.22 522.71Z" fill="#f6f6f6"/>
<path d="M1024.27 546.73A303.6 303.6 0 0 1 1012.51 535.57L1041.09 507.01A263.2 263.2 0 0 0 1051.29 516.69Z" fill="#f3f3f3"/>
<path d="M1012.73 535.79A303.6 303.6 0 0 1 1006.97 529.87L1036.29 502.07A263.2 263.2 0 0 0 1041.29 507.21Z" fill="#f8f8f8"/>
<path d="M1007.19 530.1A303.6 303.6 0 0 1 999.81 522.05L1030.08 495.3A263.2 263.2 0 0 0 1036.48 502.27Z" fill="#efefef"/>
<path d="M1000.02 522.29A303.6 303.6 0 0 1 991.26 511.94L1022.67 486.53A263.2 263.2 0 0 0 1030.27 495.5Z" fill="#f4f4f4"/>
<path d="M991.46 512.19A303.6 303.6 0 0 1 986.34 505.69L1018.41 481.12A263.2 263.2 0 0 0 1022.84 486.74Z" fill="#f2f2f2"/>
<path d="M986.53 505.95A303.6 303.6 0 0 1 980.04 497.17L1012.94 473.73A263.2 263.2 0 0 0 1018.57 481.34Z" fill="#efefef"/>
<path d="M980.23 497.43A303.6 303.6 0 0 1 972.59 486.22L1006.49 464.23A263.2 263.2 0 0 0 1013.1 473.95Z" fill="#f4f4f4"/>
<path d="M972.77 486.49A303.6 303.6 0 0 1 966.98 477.23L1001.62 456.44A263.2 263.2 0 0 0 1006.64 464.46Z" fill="#efefef"/>
<path d="M967.15 477.5A303.6 303.6 0 0 1 959.16 463.39L994.84 444.44A263.2 263.2 0 0 0 1001.76 456.68Z" fill="#f2f2f2"/>
<path d="M959.31 463.67A303.6 303.6 0 0 1 956.72 458.69L992.72 440.37A263.2 263.2 0 0 0 994.97 444.69Z" fill="#eeeeee"/>
<path d="M956.86 458.97A303.6 303.6 0 0 1 954.82 454.9L991.08 437.08A263.2 263.2 0 0 0 992.85 440.61Z" fill="#eeeeee"/>
<path d="M954.96 455.18A303.6 303.6 0 0 1 951.41 447.72L988.12 430.86A263.2 263.2 0 0 0 991.2 437.33Z" fill="#f8f8f8"/>
<path d="M951.54 448.01A303.6 303.6 0 0 1 949.67 443.86L986.61 427.51A263.2 263.2 0 0 0 988.24 431.11Z" fill="#efefef"/>
<path d="M949.8 444.15A303.6 303.6 0 0 1 946.55 436.55L983.91 421.17A263.2 263.2 0 0 0 986.72 427.76Z" fill="#f3f3f3"/>
<path d="M946.67 436.84A303.6 303.6 0 0 1 944.57 431.63L982.2 416.91A263.2 263.2 0 0 0 984.01 421.43Z" fill="#f4f4f4"/>
<path d="M944.69 431.92A303.6 303.6 0 0 1 939.17 416.68L977.51 403.95A263.2 263.2 0 0 0 982.3 417.16Z" fill="#f3f3f3"/>
<path d="M939.27 416.98A303.6 303.6 0 0 1 934.56 401.47L973.51 390.76A263.2 263.2 0 0 0 977.6 404.21Z" fill="#f1f1f1"/>
<path d="M934.64 401.78A303.6 303.6 0 0 1 931.33 388.62L970.71 379.63A263.2 263.2 0 0 0 973.59 391.03Z" fill="#f8f8f8"/>
<path d="M931.4 388.93A303.6 303.6 0 0 1 930.19 383.45L969.73 375.14A263.2 263.2 0 0 0 970.77 379.89Z" fill="#f4f4f4"/>
<path d="M930.26 383.76A303.6 303.6 0 0 1 929.15 378.25L968.82 370.63A263.2 263.2 0 0 0 969.78 375.41Z" fill="#f2f2f2"/>
<path d="M929.21 378.57A303.6 303.6 0 0 1 928.19 373.04L968 366.12A263.2 263.2 0 0 0 968.87 370.91Z" fill="#f3f3f3"/>
<path d="M928.25 373.35A303.6 303.6 0 0 1 926.93 365.19L966.9 359.31A263.2 263.2 0 0 0 968.04 366.39Z" fill="#f2f2f2"/>
<path d="M926.98 365.51A303.6 303.6 0 0 1 926.21 359.94L966.27 354.76A263.2 263.2 0 0 0 966.94 359.59Z" fill="#efefef"/>
<path d="M926.25 360.26A303.6 303.6 0 0 1 925.57 354.68L965.72 350.2A263.2 263.2 0 0 0 966.31 355.04Z" fill="#eeeeee"/>
<path d="M925.61 355A303.6 303.6 0 0 1 924.58 344.13L964.87 341.06A263.2 263.2 0 0 0 965.76 350.48Z" fill="#eeeeee"/>
<path d="M924.61 344.45A303.6 303.6 0 0 1 924.23 338.85L964.56 336.47A263.2 263.2 0 0 0 964.89 341.33Z" fill="#eeeeee"/>
<path d="M924.24 339.16A303.6 303.6 0 0 1 923.96 333.55L964.33 331.88A263.2 263.2 0 0 0 964.57 336.75Z" fill="#f8f8f8"/>
<path d="M923.97 333.87A303.6 303.6 0 0 1 923.79 328.26L964.18 327.29A263.2 263.2 0 0 0 964.34 332.16Z" fill="#f3f3f3"/>
<path d="M923.79 328.58A303.6 303.6 0 0 1 923.76 315.01L964.15 315.81A263.2 263.2 0 0 0 964.18 327.57Z" fill="#f8f8f8"/>
<path d="M923.75 315.33A303.6 303.6 0 0 1 923.87 310.78L964.25 312.14A263.2 263.2 0 0 0 964.15 316.09Z" fill="#f8f8f8"/>
<path d="M923.86 311.09A303.6 303.6 0 0 1 924.41 300.19L964.72 302.96A263.2 263.2 0 0 0 964.24 312.41Z" fill="#f2f2f2"/>
<path d="M924.39 300.51A303.6 303.6 0 0 1 925.06 292.27L965.28 296.09A263.2 263.2 0 0 0 964.7 303.24Z" fill="#f6f6f6"/>
<path d="M925.03 292.59A303.6 303.6 0 0 1 925.92 284.37L966.02 289.24A263.2 263.2 0 0 0 965.26 296.37Z" fill="#f8f8f8"/>
<path d="M925.88 284.68A303.6 303.6 0 0 1 927.38 273.87L967.29 280.14A263.2 263.2 0 0 0 965.99 289.52Z" fill="#f4f4f4"/>
<path d="M927.33 274.19A303.6 303.6 0 0 1 929.21 263.43L968.87 271.09A263.2 263.2 0 0 0 967.25 280.42Z" fill="#f3f3f3"/>
<path d="M929.15 263.75A303.6 303.6 0 0 1 930.04 259.28L969.6 267.49A263.2 263.2 0 0 0 968.82 271.37Z" fill="#efefef"/>
<path d="M929.98 259.59A303.6 303.6 0 0 1 930.93 255.13L970.37 263.9A263.2 263.2 0 0 0 969.54 267.76Z" fill="#f3f3f3"/>
<path d="M930.86 255.44A303.6 303.6 0 0 1 932.13 249.97L971.4 259.42A263.2 263.2 0 0 0 970.31 264.17Z" fill="#f4f4f4"/>
<path d="M932.05 250.28A303.6 303.6 0 0 1 933.15 245.86L972.29 255.86A263.2 263.2 0 0 0 971.34 259.69Z" fill="#f1f1f1"/>
<path d="M933.07 246.17A303.6 303.6 0 0 1 934.5 240.73L973.46 251.42A263.2 263.2 0 0 0 972.22 256.12Z" fill="#f1f1f1"/>
<path d="M934.42 241.04A303.6 303.6 0 0 1 939.1 225.52L977.45 238.23A263.2 263.2 0 0 0 973.39 251.68Z" fill="#eeeeee"/>
<path d="M939 225.82A303.6 303.6 0 0 1 943.08 214.28L980.9 228.48A263.2 263.2 0 0 0 977.37 238.49Z" fill="#f4f4f4"/>
<path d="M971.16 158.01A303.6 303.6 0 0 1 974.81 152.42L1008.41 174.85A263.2 263.2 0 0 0 1005.25 179.7Z" fill="#e4e4e4"/>
<path d="M978.51 146.99A303.6 303.6 0 0 1 981.78 142.42L1014.45 166.18A263.2 263.2 0 0 0 1011.62 170.15Z" fill="#e6e6e6"/>
<path d="M989.6 132.13A303.6 303.6 0 0 1 993.81 126.95L1024.88 152.77A263.2 263.2 0 0 0 1021.23 157.26Z" fill="#e2e2e2"/>
<path d="M1005.15 114.06A303.6 303.6 0 0 1 1010.5 108.47L1039.35 136.75A263.2 263.2 0 0 0 1034.71 141.6Z" fill="#d3d3d3"/>
<path d="M1010.27 108.7A303.6 303.6 0 0 1 1014.24 104.72L1042.59 133.5A263.2 263.2 0 0 0 1039.15 136.95Z" fill="#dcdcdc"/>
<path d="M1032.03 88.53A303.6 303.6 0 0 1 1036.36 84.96L1061.77 116.37A263.2 263.2 0 0 0 1058.01 119.47Z" fill="#ececec"/>
<path d="M1055.21 70.89A303.6 303.6 0 0 1 1059.86 67.74L1082.15 101.45A263.2 263.2 0 0 0 1078.11 104.17Z" fill="#e8e8e8"/>
<path d="M1075.36 58.15A303.6 303.6 0 0 1 1080.25 55.39L1099.82 90.73A263.2 263.2 0 0 0 1095.58 93.13Z" fill="#d5d5d5"/>
<path d="M1084.63 53.01A303.6 303.6 0 0 1 1089.61 50.42L1107.93 86.42A263.2 263.2 0 0 0 1103.61 88.67Z" fill="#e6e6e6"/>
<path d="M1091.22 49.61A303.6 303.6 0 0 1 1096.26 47.13L1113.7 83.58A263.2 263.2 0 0 0 1109.33 85.72Z" fill="#dcdcdc"/>
<path d="M1095.98 47.27A303.6 303.6 0 0 1 1104.93 43.15L1121.21 80.13A263.2 263.2 0 0 0 1113.45 83.7Z" fill="#414042"/>
<path d="M1104.64 43.28A303.6 303.6 0 0 1 1129.11 33.72L1142.18 71.95A263.2 263.2 0 0 0 1120.96 80.24Z" fill="#231f20"/>
<path d="M1128.81 33.82A303.6 303.6 0 0 1 1141.23 29.86L1152.68 68.6A263.2 263.2 0 0 0 1141.91 72.04Z" fill="#f0f0f0"/>
<path d="M1166.62 23.53A303.6 303.6 0 0 1 1174.74 21.98L1181.73 61.77A263.2 263.2 0 0 0 1174.69 63.11Z" fill="#e4e4e4"/>
<path d="M1200.68 18.57A303.6 303.6 0 0 1 1207.34 18.06L1209.99 58.37A263.2 263.2 0 0 0 1204.22 58.81Z" fill="#c9c9c9"/>
<path d="M1224.49 17.41A303.6 303.6 0 0 1 1233.82 17.47L1232.95 57.86A263.2 263.2 0 0 0 1224.87 57.81Z" fill="#fbfbfb"/>
<path d="M1241.97 17.75A303.6 303.6 0 0 1 1248.64 18.15L1245.8 58.45A263.2 263.2 0 0 0 1240.02 58.11Z" fill="#d9d9d9"/>
<path d="M1257.3 18.89A303.6 303.6 0 0 1 1263.93 19.62L1259.06 59.72A263.2 263.2 0 0 0 1253.3 59.09Z" fill="#b9b9b9"/>
<path d="M1263.62 19.58A303.6 303.6 0 0 1 1270.76 20.53L1264.98 60.51A263.2 263.2 0 0 0 1258.78 59.69Z" fill="#fdfdfd"/>
<path d="M1277.25 21.54A303.6 303.6 0 0 1 1284.35 22.81L1276.75 62.49A263.2 263.2 0 0 0 1270.6 61.39Z" fill="#e6e6e6"/>
<path d="M1288.97 23.73A303.6 303.6 0 0 1 1310.12 28.91L1299.1 67.78A263.2 263.2 0 0 0 1280.76 63.29Z" fill="#231f20"/>
<path d="M1309.81 28.83A303.6 303.6 0 0 1 1316.22 30.71L1304.38 69.34A263.2 263.2 0 0 0 1298.83 67.71Z" fill="#b3b3b5"/>
<path d="M1315.91 30.62A303.6 303.6 0 0 1 1326.29 33.99L1313.12 72.18A263.2 263.2 0 0 0 1304.12 69.26Z" fill="#2b2728"/>
<path d="M1325.99 33.89A303.6 303.6 0 0 1 1335.26 37.24L1320.89 75A263.2 263.2 0 0 0 1312.86 72.09Z" fill="#363334"/>
<path d="M1334.96 37.13A303.6 303.6 0 0 1 1343.14 40.37L1327.73 77.71A263.2 263.2 0 0 0 1320.64 74.9Z" fill="#2a2627"/>
<path d="M1342.85 40.25A303.6 303.6 0 0 1 1350.93 43.71L1334.48 80.61A263.2 263.2 0 0 0 1327.47 77.61Z" fill="#3b3839"/>
<path d="M1350.64 43.58A303.6 303.6 0 0 1 1356.23 46.14L1339.07 82.71A263.2 263.2 0 0 0 1334.23 80.5Z" fill="#6a6a6c"/>
<path d="M1355.94 46A303.6 303.6 0 0 1 1382.89 60.3L1362.19 94.99A263.2 263.2 0 0 0 1338.82 82.6Z" fill="#231f20"/>
<path d="M1382.62 60.14A303.6 303.6 0 0 1 1387.42 63.06L1366.11 97.38A263.2 263.2 0 0 0 1361.95 94.85Z" fill="#7b7b7d"/>
<path d="M1387.15 62.89A303.6 303.6 0 0 1 1391.9 65.89L1369.99 99.84A263.2 263.2 0 0 0 1365.88 97.24Z" fill="#a6a6a8"/>
<path d="M1391.63 65.72A303.6 303.6 0 0 1 1397.2 69.39L1374.59 102.87A263.2 263.2 0 0 0 1369.76 99.69Z" fill="#c6c6c6"/>
<path d="M1396.94 69.22A303.6 303.6 0 0 1 1403.73 73.93L1380.25 106.8A263.2 263.2 0 0 0 1374.37 102.72Z" fill="#dcdcdc"/>
<path d="M1420.29 86.63A303.6 303.6 0 0 1 1426.6 91.97L1400.08 122.45A263.2 263.2 0 0 0 1394.61 117.82Z" fill="#e2e2e2"/>
<path d="M1443.73 108.09A303.6 303.6 0 0 1 1448.36 112.9L1418.94 140.59A263.2 263.2 0 0 0 1414.93 136.42Z" fill="#d3d3d3"/>
<path d="M1452.1 116.95A303.6 303.6 0 0 1 1456.53 121.94L1426.03 148.43A263.2 263.2 0 0 0 1422.19 144.1Z" fill="#a6a6a8"/>
<path d="M1464.8 131.88A303.6 303.6 0 0 1 1469.86 138.42L1437.58 162.71A263.2 263.2 0 0 0 1433.2 157.05Z" fill="#dadada"/>
<path d="M1501.26 190.15A303.6 303.6 0 0 1 1510.79 212.35L1473.07 226.81A263.2 263.2 0 0 0 1464.8 207.57Z" fill="#e6e6e6"/>
<path d="M1515.99 227.03A303.6 303.6 0 0 1 1518.44 234.93L1479.7 246.38A263.2 263.2 0 0 0 1477.58 239.54Z" fill="#e0e0e0"/>
<path d="M1528.21 280.69A303.6 303.6 0 0 1 1528.97 286.79L1488.82 291.34A263.2 263.2 0 0 0 1488.17 286.05Z" fill="#231f20"/>
<path d="M1530.32 302.31A303.6 303.6 0 0 1 1530.72 310.56L1490.34 311.95A263.2 263.2 0 0 0 1490 304.79Z" fill="#e1e1e1"/>
<path d="M1530.62 334.08A303.6 303.6 0 0 1 1530.32 339.69L1490 337.21A263.2 263.2 0 0 0 1490.26 332.34Z" fill="#9c9c9e"/>
<path d="M1527.19 368.34A303.6 303.6 0 0 1 1525.79 376.48L1486.07 369.1A263.2 263.2 0 0 0 1487.28 362.04Z" fill="#e2e2e2"/>
<path d="M1519.18 404.53A303.6 303.6 0 0 1 1515.99 414.97L1477.58 402.46A263.2 263.2 0 0 0 1480.34 393.42Z" fill="#dedede"/>
<path d="M1504.72 444.34A303.6 303.6 0 0 1 1500.1 454.23L1463.8 436.5A263.2 263.2 0 0 0 1467.8 427.93Z" fill="#e0e0e0"/>
<path d="M1496.67 461.05A303.6 303.6 0 0 1 1491.98 469.72L1456.76 449.93A263.2 263.2 0 0 0 1460.82 442.41Z" fill="#d2d2d2"/>
<path d="M1492.14 469.44A303.6 303.6 0 0 1 1488.54 475.68L1453.78 455.1A263.2 263.2 0 0 0 1456.9 449.69Z" fill="#8f8f91"/>
<path d="M1488.7 475.41A303.6 303.6 0 0 1 1483.27 484.26L1449.21 462.53A263.2 263.2 0 0 0 1453.92 454.86Z" fill="#cfcfcf"/>
<path d="M1476.09 495.01A303.6 303.6 0 0 1 1471.26 501.72L1438.79 477.67A263.2 263.2 0 0 0 1442.98 471.85Z" fill="#dddddd"/>
<path d="M1461.67 513.99A303.6 303.6 0 0 1 1455.63 521.1L1425.24 494.47A263.2 263.2 0 0 0 1430.48 488.31Z" fill="#d9d9d9"/>
<path d="M1455.84 520.86A303.6 303.6 0 0 1 1452.81 524.27L1422.8 497.22A263.2 263.2 0 0 0 1425.43 494.26Z" fill="#b8b8b8"/>
<path d="M1453.03 524.03A303.6 303.6 0 0 1 1447.78 529.72L1418.44 501.94A263.2 263.2 0 0 0 1422.99 497.01Z" fill="#231f20"/>
<path d="M1448 529.48A303.6 303.6 0 0 1 1443.73 533.91L1414.93 505.58A263.2 263.2 0 0 0 1418.63 501.74Z" fill="#cfcfcf"/>
<path d="M1434.47 542.93A303.6 303.6 0 0 1 1426.36 550.23L1399.87 519.73A263.2 263.2 0 0 0 1406.9 513.4Z" fill="#e0e0e0"/>
<path d="M1414.34 560.14A303.6 303.6 0 0 1 1407.76 565.15L1383.75 532.66A263.2 263.2 0 0 0 1389.45 528.32Z" fill="#dadada"/>
<path d="M1397.2 572.61A303.6 303.6 0 0 1 1390.29 577.14L1368.6 543.05A263.2 263.2 0 0 0 1374.59 539.13Z" fill="#d6d6d6"/>
<path d="M1390.56 576.97A303.6 303.6 0 0 1 1386.7 579.39L1365.49 545.01A263.2 263.2 0 0 0 1368.83 542.91Z" fill="#9c9c9e"/>
<path d="M1386.97 579.22A303.6 303.6 0 0 1 1380.79 582.94L1360.37 548.08A263.2 263.2 0 0 0 1365.72 544.86Z" fill="#231f20"/>
<path d="M1381.07 582.78A303.6 303.6 0 0 1 1374.35 586.61L1354.78 551.27A263.2 263.2 0 0 0 1360.61 547.94Z" fill="#e2e2e2"/>
<path d="M1362.91 592.63A303.6 303.6 0 0 1 1354.02 596.89L1337.16 560.18A263.2 263.2 0 0 0 1344.86 556.49Z" fill="#d0d0d0"/>
<path d="M1354.31 596.76A303.6 303.6 0 0 1 1347.73 599.69L1331.7 562.61A263.2 263.2 0 0 0 1337.41 560.06Z" fill="#858587"/>
<path d="M1348.02 599.57A303.6 303.6 0 0 1 1336.94 604.11L1322.35 566.44A263.2 263.2 0 0 0 1331.96 562.5Z" fill="#d8d8d8"/>
<path d="M1337.24 604A303.6 303.6 0 0 1 1333.47 605.43L1319.35 567.58A263.2 263.2 0 0 0 1322.61 566.34Z" fill="#8a8a8c"/>
<path d="M1333.77 605.32A303.6 303.6 0 0 1 1327.99 607.42L1314.59 569.3A263.2 263.2 0 0 0 1319.6 567.48Z" fill="#231f20"/>
<path d="M1328.29 607.31A303.6 303.6 0 0 1 1323.99 608.79L1311.12 570.5A263.2 263.2 0 0 0 1314.85 569.21Z" fill="#7d7d7f"/>
<path d="M1305.01 614.49A303.6 303.6 0 0 1 1295.44 616.85L1286.37 577.49A263.2 263.2 0 0 0 1294.67 575.43Z" fill="#c4c4c4"/>
<path d="M1287.98 618.47A303.6 303.6 0 0 1 1279.86 620.02L1272.87 580.23A263.2 263.2 0 0 0 1279.91 578.89Z" fill="#dedede"/>
<path d="M1266.56 622.05A303.6 303.6 0 0 1 1255.19 623.32L1251.47 583.09A263.2 263.2 0 0 0 1261.34 581.99Z" fill="#6a6a6c"/>
<path d="M1255.5 623.29A303.6 303.6 0 0 1 1252.02 623.59L1248.73 583.33A263.2 263.2 0 0 0 1251.75 583.06Z" fill="#333132"/>
<path d="M1252.33 623.57A303.6 303.6 0 0 1 1248.06 623.89L1245.29 583.58A263.2 263.2 0 0 0 1249 583.3Z" fill="#89898b"/>
<path d="M1248.37 623.87A303.6 303.6 0 0 1 1240.65 624.31L1238.87 583.95A263.2 263.2 0 0 0 1245.57 583.57Z" fill="#231f20"/>
<path d="M1240.97 624.29A303.6 303.6 0 0 1 1231.91 624.57L1231.3 584.17A263.2 263.2 0 0 0 1239.15 583.93Z" fill="#a7a7a9"/>
<path d="M1232.23 624.56A303.6 303.6 0 0 1 1225.29 624.59L1225.55 584.19A263.2 263.2 0 0 0 1231.57 584.17Z" fill="#231f20"/>
<path d="M1225.6 624.6A303.6 303.6 0 0 1 1220.78 624.53L1221.65 584.14A263.2 263.2 0 0 0 1225.83 584.2Z" fill="#a9a9ab"/>
<path d="M1221.1 624.54A303.6 303.6 0 0 1 1210.72 624.15L1212.93 583.81A263.2 263.2 0 0 0 1221.93 584.15Z" fill="#9a9a9c"/>
<path d="M1195.72 622.95A303.6 303.6 0 0 1 1187.51 621.98L1192.81 581.93A263.2 263.2 0 0 0 1199.93 582.77Z" fill="#e6e6e6"/>
<path d="M1177.35 620.46A303.6 303.6 0 0 1 1169.21 618.99L1176.94 579.34A263.2 263.2 0 0 0 1184 580.61Z" fill="#e2e2e2"/>
<path d="M1154.01 615.62A303.6 303.6 0 0 1 1143.46 612.8L1154.62 573.97A263.2 263.2 0 0 0 1163.76 576.42Z" fill="#e8e8e8"/>
<path d="M1118.65 604.49A303.6 303.6 0 0 1 1108.53 600.4L1124.33 563.22A263.2 263.2 0 0 0 1133.11 566.77Z" fill="#e6e6e6"/>
<path d="M1091.98 592.77A303.6 303.6 0 0 1 1084.63 588.99L1103.61 553.33A263.2 263.2 0 0 0 1109.98 556.61Z" fill="#dedede"/>
<path d="M1077.94 585.32A303.6 303.6 0 0 1 1070.8 581.15L1091.62 546.54A263.2 263.2 0 0 0 1097.81 550.15Z" fill="#dadada"/>
<path d="M1048.98 566.71A303.6 303.6 0 0 1 1042.35 561.77L1066.96 529.73A263.2 263.2 0 0 0 1072.71 534.01Z" fill="#e8e8e8"/>
<path d="M1024.27 546.73A303.6 303.6 0 0 1 1005.15 527.94L1034.71 500.4A263.2 263.2 0 0 0 1051.29 516.69Z" fill="#e9e9e9"/>
<path d="M970.48 482.92A303.6 303.6 0 0 1 962.72 469.9L997.93 450.09A263.2 263.2 0 0 0 1004.66 461.37Z" fill="#e4e4e4"/>
<path d="M950.88 446.56A303.6 303.6 0 0 1 945.75 434.58L983.21 419.47A263.2 263.2 0 0 0 987.67 429.85Z" fill="#e8e8e8"/>
<path d="M937.01 409.92A303.6 303.6 0 0 1 934.7 401.98L973.64 391.2A263.2 263.2 0 0 0 975.64 398.08Z" fill="#d6d6d6"/>
<path d="M928.81 376.48A303.6 303.6 0 0 1 927.41 368.34L967.32 362.04A263.2 263.2 0 0 0 968.53 369.1Z" fill="#e2e2e2"/>
<path d="M923.84 330.17A303.6 303.6 0 0 1 923.72 324.55L964.12 324.08A263.2 263.2 0 0 0 964.22 328.95Z" fill="#e8e8e8"/>
<path d="M925.35 289.42A303.6 303.6 0 0 1 926.68 278.59L966.68 284.23A263.2 263.2 0 0 0 965.53 293.63Z" fill="#e9e9e9"/>
<path d="M928.75 265.83A303.6 303.6 0 0 1 930.93 255.13L970.37 263.9A263.2 263.2 0 0 0 968.48 273.17Z" fill="#eeeeee"/>
<path d="M932.18 249.77A303.6 303.6 0 0 1 933.15 245.86L972.29 255.86A263.2 263.2 0 0 0 971.45 259.24Z" fill="#231f20"/>
<path d="M933.07 246.17A303.6 303.6 0 0 1 934.93 239.2L973.83 250.09A263.2 263.2 0 0 0 972.22 256.12Z" fill="#f3f3f3"/>
<path d="M934.84 239.51A303.6 303.6 0 0 1 936.4 234.11L975.11 245.67A263.2 263.2 0 0 0 973.76 250.35Z" fill="#231f20"/>
<path d="M936.31 234.42A303.6 303.6 0 0 1 939.27 225.02L977.6 237.79A263.2 263.2 0 0 0 975.03 245.94Z" fill="#eaeaea"/>
<path d="M939.17 225.32A303.6 303.6 0 0 1 941.17 219.51L979.24 233.01A263.2 263.2 0 0 0 977.51 238.05Z" fill="#231f20"/>
<path d="M941.06 219.81A303.6 303.6 0 0 1 943.08 214.28L980.9 228.48A263.2 263.2 0 0 0 979.15 233.27Z" fill="#efefef"/>
<path d="M963.58 170.58A303.6 303.6 0 1 1 943.02 214.43M998.68 190.6A263.2 263.2 0 1 1 980.85 228.61" stroke="#4d4d4f" stroke-width="1.05" fill="none"/>
</g>
<path d="M1003.47 190.68L1151.42 276.82M1005.82 186.73L1125.1 259.05M1008.24 182.82L1125.48 256.77M1010.73 178.96L1125.9 254.5M1013.28 175.14L1126.37 252.21M1015.9 171.36L1106.18 235.26M1018.59 167.63L1107.72 233.12M1021.35 163.95L1109.29 231.02M1024.17 160.32L1103.09 222.75M1027.05 156.74L1104.86 220.56M1030 153.21L1106.45 218.23M1033.01 149.74L1108.09 215.92M1036.08 146.32L1109.77 213.63M1039.21 142.95L1111.49 211.38M1042.4 139.64L1113.26 209.15M1045.64 136.39L1116.36 208.25M1048.95 133.19L1117.98 205.88M1052.31 130.06L1119.64 203.53M1055.73 126.98L1121.36 201.2M1059.2 123.96L1129.1 205.9M1062.72 121.01L1131.16 204.17M1066.3 118.12L1128.34 196.3M1069.92 115.3L1133.12 197.9M1073.6 112.54L1135.32 196.24M1077.32 109.84L1118 167.11M1081.09 107.21L1120.71 165.14M1084.91 104.65L1123.45 163.21M1088.77 102.16L1126.23 161.33M1092.68 99.73L1129.04 159.5M1096.63 97.38L1141.13 173.53M1100.62 95.1L1143.76 172.03M1104.65 92.88L1127.47 135.34M1108.72 90.74L1148.73 168.44M1112.82 88.67L1149.29 162.68M1146.85 74.81L1173.19 155.42M1151.23 73.42L1176.55 155.82M1155.64 72.11L1178.3 150.81M1160.07 70.88L1181.33 149.97M1164.52 69.72L1182.75 142.68M1168.99 68.65L1187.49 148.74M1173.47 67.65L1188.96 140.53M1177.98 66.74L1187.54 116.02M1182.5 65.9L1196.37 144.9M1187.03 65.15L1194.84 114.74M1191.58 64.47L1199.19 119.15M1196.14 63.88L1202.59 117.09M1200.71 63.37L1206.21 116.69M1205.29 62.94L1209.84 116.34M1209.87 62.59L1213.48 116.07M1214.46 62.32L1217.12 115.85M1219.05 62.13L1220.76 115.7M1223.65 62.03L1224.65 133.1M1228.24 62L1227.99 132.55M1232.84 62.06L1231.33 132.77M1237.44 62.2L1234.67 132.91M1242.03 62.42L1238.01 133.03M1246.61 62.72L1241.36 132.94M1251.2 63.1L1244.72 132.97M1255.77 63.57L1248.03 133.52M1260.33 64.12L1251.38 133.71M1264.89 64.74L1254.68 134.32M1269.43 65.45L1258.05 134.49M1273.96 66.24L1261.34 135.12M1278.47 67.11L1264.66 135.62M1371.26 105.7L1338.91 154.08M1375.06 108.28L1355.15 136.95M1378.81 110.94L1354.13 145.17M1382.52 113.66L1360.22 143.44M1386.17 116.45L1354.15 157.68M1389.78 119.3L1352.95 165.02M1393.33 122.22L1371.92 147.85M1396.83 125.2L1361.49 166.02M1400.28 128.24L1376.64 154.58M1403.68 131.34L1379.57 157.26M1407.01 134.5L1387.93 154.3M1410.3 137.72L1376.81 171.26M1413.52 140.99L1381.67 171.78M1416.69 144.33L1374.11 184.05M1419.79 147.71L1376.88 186.34M1422.84 151.16L1379.62 188.7M1425.82 154.66L1397.77 178.16M1428.74 158.21L1384.99 193.56M1431.6 161.81L1398.31 187.74M1434.39 165.46L1407.85 185.4M1437.12 169.16L1403.83 193.25M1439.78 172.91L1395.25 203.94M1442.38 176.7L1408.5 199.43M1444.91 180.54L1412.31 201.58M1447.36 184.42L1414.4 204.88M1449.75 188.35L1368.85 236.6M1452.07 192.32L1358.43 245.93M1454.32 196.33L1359.74 248.27M1456.5 200.38L1370.39 245.69M1458.6 204.47L1405.82 231.06M1460.63 208.59L1407.39 234.24M1462.59 212.75L1384.28 248.78M1464.48 216.94L1386.4 251.2M1466.29 221.17L1387.78 253.96M1468.02 225.42L1389.12 256.75M1469.68 229.71L1390.4 259.57M1471.26 234.03L1391.64 262.41M1472.77 238.37L1392.82 265.28M1474.19 242.74L1393.96 268.17M1475.54 247.14L1395.04 271.09M1476.82 251.55L1396.08 274.03M1478.01 255.99L1397.06 276.98M1479.12 260.45L1397.99 279.96M1480.16 264.93L1398.87 282.96M1481.11 269.43L1399.69 285.97M1481.99 273.94L1400.47 289M1482.78 278.47L1401.19 292.05M1483.5 283.01L1401.85 295.12M1484.13 287.56L1406.19 297.71M1484.69 292.13L1412.04 300.28M1485.16 296.7L1417.16 303.11M1485.55 301.28L1415.45 306.63M1485.86 305.87L1405.65 310.56M1486.09 310.46L1406.23 313.71M1486.23 315.05L1409.65 316.81M1486.3 319.65L1405.34 320.07M1486.28 324.25L1403.91 323.21M1486.18 328.84L1405.32 326.39M1486 333.44L1408.89 329.73M1485.74 338.02L1406.2 332.78M1485.4 342.61L1403.76 335.77M1484.97 347.19L1406.27 339.19M1484.47 351.76L1405.1 342.26M1483.88 356.31L1404.34 345.37M1483.21 360.86L1407.95 349.14M1482.47 365.4L1405.6 352.02M1481.64 369.92L1405.63 355.3M1480.73 374.43L1405.68 358.61M1479.74 378.92L1402.65 361.23M1478.67 383.39L1388.02 360.89M1477.53 387.84L1398.32 366.68M1476.3 392.27L1400.46 370.56M1475 396.68L1397.61 373.03M1473.61 401.06L1397.45 376.3M1472.16 405.42L1396.28 379.26M1470.62 409.75L1396.81 382.83M1469 414.06L1395.5 385.76M1467.31 418.33L1394.98 389M1465.55 422.58L1391.59 391.05M1463.71 426.79L1391.05 394.27M1461.79 430.97L1389.36 397M1459.81 435.11L1388.17 399.95M1457.74 439.22L1387.16 403.01M1455.61 443.29L1385.61 405.8M1453.4 447.33L1384.26 408.69M1451.12 451.32L1382.85 411.57M1448.78 455.27L1404.48 428.42M1446.36 459.18L1402.55 431.55M1443.87 463.05L1400.56 434.64M1441.32 466.87L1403.06 440.79M1438.69 470.65L1410.54 450.71M1436 474.37L1414.33 458.44M1433.25 478.05L1393.01 447.37M1430.43 481.68L1390.74 450.29M1427.55 485.26L1415.48 475.37M1424.6 488.79L1364.34 437.55M1421.59 492.27L1407.79 480.1M1418.52 495.69L1417.86 495.08M1415.39 499.05L1400.14 484.62M1412.2 502.37L1398.04 488.48M1408.95 505.62L1395.27 491.71M1405.65 508.81L1392.44 494.9M1402.28 511.95L1389.54 498.04M1398.87 515.02L1349.12 458.76M1395.4 518.04L1368.59 486.62M1391.87 520.99L1369.18 493.42M1388.3 523.88L1366.08 495.88M1384.67 526.71L1362.93 498.29M1381 529.47L1359.74 500.64M1377.27 532.16L1356.51 502.93M1373.5 534.79L1353.24 505.17M1369.68 537.35L1349.77 507.09M1365.82 539.84L1346.17 508.81M1361.92 542.27L1342.56 510.45M1357.97 544.62L1338.92 512.03M1353.98 546.91L1335.28 513.56M1349.95 549.12L1331.9 515.56M1345.88 551.26L1328.49 517.5M1341.77 553.33L1325.05 519.39M1337.63 555.32L1321.57 521.21M1333.46 557.25L1318.06 522.97M1329.25 559.09L1314.51 524.67M1325.01 560.86L1310.93 526.31M1320.73 562.56L1307.32 527.88M1316.43 564.18L1303.68 529.4M1312.1 565.72L1300.01 530.84M1307.74 567.19L1296.32 532.23M1303.36 568.58L1292.6 533.54M1298.96 569.89L1288.85 534.8M1294.53 571.12L1285.08 535.98M1290.08 572.28L1281.29 537.1M1285.61 573.35L1277.48 538.16M1281.12 574.35L1273.64 539.14M1276.61 575.26L1269.79 540.06M1272.09 576.1L1265.91 540.91M1267.56 576.85L1262.03 541.69M1263.01 577.53L1258.12 542.4M1212.57 579.58L1214.45 546.59M1207.98 579.28L1210.43 546.56M1203.4 578.89L1206.4 546.46M1198.83 578.43L1202.38 546.29M1194.26 577.88L1198.35 546.05M1189.71 577.26L1194.33 545.74M1185.16 576.55L1190.31 545.36M1180.64 575.76L1186.29 544.9M1176.12 574.89L1182.27 544.37M1171.62 573.94L1178.27 543.77M1167.14 572.92L1174.26 543.1M1162.68 571.81L1170.27 542.35M1158.24 570.62L1166.29 541.53M1153.82 569.36L1162.32 540.64M1149.42 568.01L1158.36 539.68M1145.05 566.59L1154.41 538.65M1140.71 565.1L1150.48 537.55M1136.39 563.52L1146.56 536.38M1132.1 561.87L1146.14 526.34M1127.84 560.14L1142.43 525.05M1123.61 558.34L1139.74 521.41M1119.41 556.46L1135.66 521M1115.25 554.51L1140.21 502.49M1111.12 552.48L1129.16 516.55M1107.03 550.38L1124.17 517.7M1102.98 548.21L1128.52 501.54M1098.97 545.97L1116.11 515.92M1095 543.66L1124.47 494.05M1091.06 541.27L1107.63 514.48M1087.18 538.82L1114.77 495.93M1083.33 536.3L1111.68 493.91M1079.53 533.71L1095.62 510.55M1075.78 531.06L1105.62 489.69M1072.08 528.33L1097.79 493.99M1068.42 525.55L1087.62 500.83M1064.82 522.69L1077.85 506.51M1061.26 519.78L1074.54 503.89M1057.76 516.8L1071.26 501.21M1054.31 513.76L1068.04 498.47M1050.92 510.66L1064.86 495.67M1047.58 507.5L1061.73 492.81M1044.3 504.28L1058.66 489.9M1041.07 501L1055.63 486.94M1037.91 497.67L1052.66 483.91M1034.8 494.28L1049.73 480.84M1031.76 490.84L1046.87 477.71M1028.78 487.34L1044.06 474.54M1025.85 483.79L1057.67 458.08M1023 480.19L1068.12 445.03M1020.2 476.54L1047.31 456.18M1017.48 472.84L1046.8 451.62M1014.81 469.09L1039.34 451.99M1012.22 465.3L1061.55 432.2M1009.69 461.46L1038.43 442.91M1007.23 457.57L1049.89 431.1M1004.84 453.64L1030.78 438.18M1002.52 449.67L1026.49 435.96M1000.28 445.66L1024.54 432.34M998.1 441.62L1022.64 428.7M996 437.53L1020.56 425.15M993.96 433.41L1018.37 421.65M992.01 429.25L1016.59 417.94M990.12 425.05L1014.79 414.23M988.31 420.83L1012.66 410.66M986.58 416.57L1011.27 406.77M984.92 412.28L1009.63 402.97M983.34 407.97L1007.82 399.24M981.83 403.62L1006.54 395.31M980.4 399.25L1004.7 391.55M979.05 394.86L1003.73 387.52M977.78 390.44L1002.34 383.61M976.59 386L1000.96 379.68M975.48 381.54L999.85 375.68M974.44 377.06L998.61 371.7M973.49 372.57L997.96 367.59M972.61 368.05L996.68 363.61M971.81 363.53L995.69 359.55M971.1 358.98L995.31 355.4M970.47 354.43L994.22 351.34M969.91 349.87L993.69 347.2M969.44 345.29L993.01 343.07M969.05 340.71L992.46 338.93M968.74 336.13L991.88 334.77M968.51 331.54L991.76 330.59M968.37 326.94L991.52 326.41M968.3 322.35L991.33 322.23M968.32 317.75L991.24 318.04M968.42 313.15L990.71 313.83M968.6 308.56L990.85 309.63M968.86 303.97L991.01 305.43M969.2 299.39L990.89 301.2M969.63 294.81L991.09 296.99M970.13 290.24L991.69 292.82M970.72 285.68L991.88 288.59M971.39 281.13L992.53 284.43M972.13 276.6L992.75 280.18M972.96 272.07L993.3 275.99M973.87 267.57L993.93 271.8M974.86 263.08L994.86 267.67M975.93 258.61L995.47 263.46M977.07 254.15L996.5 259.34M978.3 249.72L997.71 255.28M979.6 245.32L998.35 251.04M980.99 240.93L999.54 246.96M982.45 236.57L1000.84 242.92M983.98 232.24L1002.11 238.85" stroke="#9a9a9c" stroke-width="0.78" stroke-dasharray="3.1 2.6" fill="none"/>
<path d="M1151.38 159.77L1117.52 87.85M1154.21 158.36L1121.67 85.94M1157.07 157L1125.86 84.11M1159.96 155.69L1130.08 82.34M1162.87 154.43L1134.33 80.65M1165.8 153.22L1138.61 79.04M1168.75 152.06L1142.92 77.51M1268.14 135.45L1282.69 69.32M1271.33 136.59L1287.15 70.35M1274.74 136.85L1291.59 71.45M1277.95 137.89L1296.01 72.63M1281.27 138.58L1300.41 73.89M1284.47 139.65L1304.78 75.22M1287.73 140.55L1309.13 76.64M1290.94 141.59L1313.45 78.13M1294.21 142.49L1317.75 79.7M1297.31 143.85L1322.02 81.34M1300.4 145.23L1326.26 83.06M1303.69 146.14L1330.47 84.85M1306.71 147.68L1334.64 86.72M1309.74 149.18L1338.78 88.66M1312.93 150.37L1342.89 90.68M1315.93 151.94L1346.96 92.76M1319.11 153.19L1350.99 94.92M1322.02 154.94L1354.98 97.16M1324.91 156.72L1358.94 99.46M1327.91 158.33L1362.85 101.83M1336.15 151.79L1366.71 104.27M1255.09 550.32L1258.3 576.83M1251.01 550.78L1253.75 577.34M1246.93 551.16L1249.2 577.77M1242.84 551.48L1244.64 578.12M1238.75 551.72L1240.07 578.38M1234.65 551.88L1235.5 578.57M1230.55 551.98L1230.93 578.67M1226.45 552L1226.35 578.7M1222.35 551.95L1221.78 578.64M1218.25 551.82L1217.21 578.5" stroke="#932891" stroke-width="1.35" stroke-dasharray="6.8 2.4" fill="none"/>
<path d="M1400.34 298.47L1401.47 298.33M1400.71 301.55L1404.13 301.16M1401.03 304.63L1402.53 304.49M1401.29 307.71L1403.9 307.51M1401.5 310.8L1404.85 310.61M1401.66 313.9L1405.43 313.74M1401.75 316.99L1404.34 316.93M1401.8 320.09L1404.54 320.08M1401.79 323.19L1402.85 323.2M1401.72 326.28L1404.23 326.36M1401.6 329.38L1403.9 329.49M1401.42 332.47L1405.4 332.73M1402.2 338.77L1405.48 339.11M1401.86 341.88L1404.31 342.17M1401.46 344.97L1403.55 345.26M1401.01 348.06L1407.16 349.02M1400.5 351.14L1404.81 351.89M1399.94 354.21L1404.84 355.15M1399.32 357.26L1403.47 358.14M1398.65 360.31L1401.87 361.05M1396.99 369.57L1399.69 370.34M1396.1 372.57L1396.85 372.8M1395.16 375.56L1396.68 376.06M1394.16 378.53L1395.52 379M1393.11 381.48L1396.05 382.56M1392.01 384.42L1394.75 385.47M1390.86 387.33L1394.24 388.7M1389.66 390.22L1390.57 390.61M1388.41 393.09L1390.31 393.95M1387.1 395.94L1387.82 396.28M1385.74 398.77L1387.02 399.39M1384.34 401.57L1386.45 402.65M1382.89 404.34L1383.58 404.71M1381.38 407.09L1382.57 407.75M1227.3 321L1227.3 292.2M1203.77 303.71A29.2 29.2 0 0 1 1249.67 302.23M1203.98 303.43L1181.38 286.4M1177.6 292.08A57.5 57.5 0 0 1 1185.38 281.64M1177.6 292.08L1152.11 277.24M1185.38 281.64L1159.65 257.47M1149.3 270.35A93 93 0 0 1 1171.33 246.73M1149.3 270.35L1133.37 260M1131.24 262.83A112.3 112.3 0 0 1 1134.53 257.72M1131.24 262.83L1126.79 260.13M1134.53 257.72L1131.47 255.63M1171.33 246.73L1155.98 226.36M1138.46 242.13A118.8 118.8 0 0 1 1175.78 213.95M1138.46 242.13L1131.58 236.02M1125.9 242.06A128.5 128.5 0 0 1 1136.75 229.82M1125.9 242.06L1120.77 238.07M1119.91 239.19A135 135 0 0 1 1124.49 233.5M1119.91 239.19L1109.89 231.56M1124.49 233.5L1108.12 219.57M1136.75 229.82L1132.39 225.42M1132.39 225.42A134.7 134.7 0 0 1 1141.98 216.76M1141.98 216.76L1132.29 204.92M1123.7 211.83A150.5 150.5 0 0 1 1144.67 195.21M1123.7 211.83L1120.05 207.99M1133.82 203.05L1128.91 196.86M1136.94 200.65L1134.72 197.69M1133.64 198.5A154.2 154.2 0 0 1 1135.79 196.89M1140.76 197.87L1139.32 195.82M1175.78 213.95L1172.66 207.46M1163.03 211.46A127 127 0 0 1 1182.41 202.2M1163.03 211.46L1141.27 174.37M1141.27 174.37A170 170 0 0 1 1146.71 171.32M1144.67 195.21L1124.91 165.12M1146.71 171.32L1127.74 136.1M1182.41 202.2L1174.46 181.15M1158.5 187.71A150 150 0 0 1 1190.5 175.58M1158.5 187.71L1155.57 182.02M1154.6 182.52A156.4 156.4 0 0 1 1162.69 178.57M1154.6 182.52L1147.9 169.77M1162.69 178.57L1159.63 171.83M1155.92 173.35A164 164 0 0 1 1167.19 168.41M1155.92 173.35L1150.83 162.81M1167.19 168.41L1165.73 164.69M1158.43 167.76A168 168 0 0 1 1172.33 162.25M1161.12 166.59L1159.54 162.91M1156.79 164.12A172 172 0 0 1 1166.78 160M1156.79 164.12L1155.56 161.38M1166.78 160L1165.73 157.19M1172.33 162.25L1170.04 155.63M1190.5 175.58L1189.94 173.35M1181 175.91A152.3 152.3 0 0 1 1197.98 171.55M1181 175.91L1179.81 172.19M1178.77 172.53A156.2 156.2 0 0 1 1183.98 170.93M1178.77 172.53L1173.43 156.18M1181.37 171.71L1176.73 156.6M1183.98 170.93L1178.41 151.61M1197.98 171.55L1196.82 165.66M1186.86 167.95A158.3 158.3 0 0 1 1206.64 164.05M1186.86 167.95L1183.24 154.22M1182.36 154.46A172.5 172.5 0 0 1 1188.5 152.92M1182.36 154.46L1181.37 150.79M1185.57 153.62L1183.03 143.44M1188.5 152.92L1187.71 149.51M1206.64 164.05L1205.44 154.93M1193.62 156.92A167.5 167.5 0 0 1 1216.2 153.87M1193.62 156.92L1192.31 150.55M1190.53 150.93A174 174 0 0 1 1195.89 149.86M1190.53 150.93L1188.48 141.45M1194.1 150.2L1187.61 116.82M1187.61 116.82A208 208 0 0 1 1194.04 115.68M1195.89 149.86L1195.17 145.92M1216.2 153.87L1215.74 146.88M1202.41 148.28A174.5 174.5 0 0 1 1229.43 146.51M1202.41 148.28L1198.35 120.08M1201.15 119.69A203 203 0 0 1 1219.86 118.14M1229.43 146.51L1229.56 136.01M1224.68 135.55L1224.66 133.9M1227.98 135.45L1227.98 133.35M1231.27 135.4L1231.31 133.57M1234.57 135.41L1234.64 133.71M1237.87 135.49L1237.96 133.83M1241.16 135.62L1241.3 133.73M1244.46 135.81L1244.65 133.76M1247.75 136.05L1247.94 134.32M1251.04 136.36L1251.28 134.51M1254.33 136.72L1254.57 135.12M1257.61 137.15L1257.92 135.28M1260.88 137.63L1261.2 135.91M1264.15 138.17L1264.51 136.41M1267.41 138.77L1267.88 136.62M1270.66 139.42L1271.05 137.76M1273.89 140.14L1274.44 138.02M1277.12 140.91L1277.63 139.05M1280.33 141.74L1280.93 139.73M1283.53 142.62L1284.11 140.8M1286.72 143.57L1287.34 141.69M1289.89 144.57L1290.54 142.72M1293.04 145.63L1293.79 143.61M1296.17 146.74L1296.87 144.97M1299.29 147.91L1299.94 146.34M1302.38 149.14L1303.21 147.24M1305.46 150.42L1306.21 148.77M1308.51 151.75L1309.22 150.27M1311.54 153.14L1312.39 151.44M1314.55 154.59L1315.38 153M1317.53 156.09L1318.54 154.24M1320.48 157.64L1321.43 155.98M1323.41 159.24L1324.3 157.75M1326.31 160.9L1327.27 159.35M1249.56 301.65L1270.54 283.41M1261.84 274.66A57.8 57.8 0 0 1 1277.61 292.54M1261.68 274.54L1332.41 178.96M1324.22 172.89A177 177 0 0 1 1338.69 183.45M1324.99 173.4L1337.69 154.22M1338.69 183.45L1348.13 171.79M1337.72 162.71A193 193 0 0 1 1360.64 181.47M1337.72 162.71L1349.17 146.31M1347.64 145.25A213 213 0 0 1 1350.99 147.59M1347.64 145.25L1353.46 136.75M1350.99 147.59L1352.73 145.15M1346.39 169.12L1350.4 164.01M1346.53 161.05A199.5 199.5 0 0 1 1354.73 167.5M1346.53 161.05L1359.38 143.81M1349.57 163.36L1353.56 158.23M1354.73 167.5L1370.9 148.04M1360.64 181.47L1363.4 178.58M1361.27 166.89A204.2 204.2 0 0 1 1366.56 171.66M1362.61 168.06L1374.93 154.13M1365.52 170.69L1378.11 157M1366.18 179.18L1388.71 156.17M1368.99 181.27L1377.4 172.99M1371.39 183.31L1381.94 173.22M1384.28 178.66A211.9 211.9 0 0 1 1389.62 184.79M1375.83 186.32L1384.28 178.66M1378.01 189.52L1387.43 181.31M1381.12 192.39L1397.3 178.85M1383.95 195.05L1388.23 191.61M1388.23 191.61A206.5 206.5 0 0 1 1394.15 199.33M1386.95 198.06L1398.43 189.21M1389.47 200.56L1407.93 186.85M1394.15 199.33L1402.71 193.09M1396.41 207.79L1407.96 200.06M1406.14 193.91A219.4 219.4 0 0 1 1414.17 206.04M1406.14 193.91L1407.44 192.98M1408.33 197.05L1409.24 196.42M1414.17 206.04L1415.53 205.2M1278.48 294.13L1337.53 263.13M1334.41 257.15A124.7 124.7 0 0 1 1340.86 269.49M1334.86 257.9L1368.75 238.01M1340.86 269.49L1357.71 261.84M1352.39 251.09A143.3 143.3 0 0 1 1362.46 273.4M1352.39 251.09L1358.5 247.67M1357.73 246.3A150.3 150.3 0 0 1 1358.76 248.13M1358.76 248.13L1359.8 247.55M1362.46 273.4L1365.01 272.5M1356.45 252.91A146 146 0 0 1 1370.37 291.89M1357.04 254.04L1370.28 247.2M1370.56 248.63A160.5 160.5 0 0 1 1387.26 334.15M1369.83 292.78L1383.76 290.02M1370.79 248.2L1404.95 230.88M1380.14 248.42L1406.97 235.68M1404.22 229.68A199.1 199.1 0 0 1 1407.75 236.86M1380.14 248.42A169.2 169.2 0 0 1 1396.13 309.79M1391 300.32A165 165 0 0 1 1391.77 334.23M1381.63 251.64L1384.18 250.49M1383.07 256.48A168.6 168.6 0 0 1 1393.59 293.17M1386.66 256.29L1389.81 255.01M1388.03 250.78A175.4 175.4 0 0 1 1390.38 256.43M1392.29 268.98L1395.63 267.93M1394.68 265A176.5 176.5 0 0 1 1396.53 270.87M1396.01 280.5L1398.44 279.91M1397.62 276.64A176 176 0 0 1 1399.06 282.61M1399.69 297.39L1405.24 296.63M1400.04 300.1L1411.06 298.76M1400.41 303.42L1416.23 301.81M1400.71 306.74L1406.69 306.25M1401.35 308.52L1414.72 307.57M1401.58 312.17L1404.47 312.02M1402.27 317.95L1408.87 317.83M1402.3 321L1404.3 321M1402.18 327.41L1404.48 327.5M1402.54 330.49L1408.04 330.79M1402.35 333.55L1404.84 333.73M1387.16 334.14L1391.55 334.5M1391.57 334.22A164.8 164.8 0 0 1 1386.71 362.82M1386.71 362.82L1390.48 363.81M1389.32 363.5A167.5 167.5 0 0 1 1374.08 401.69M1393.23 347.28L1405.08 349.16M1391.63 355.93L1404.83 358.74M1382.76 382.55L1392.34 386.34M1378.65 391.58L1388.62 396.23M1364.27 410.29L1371.64 415.09M1359.35 433.38L1363.69 437.08M1345.48 454.11L1348.86 457.92M1307.2 488.52L1308.62 491.5M1249.88 513.18A193.5 193.5 0 0 1 1067.64 430.32M1249.23 507.72L1249.91 513.48M1135.12 495.1A197 197 0 0 1 1095.99 467.86M1136.76 492.01L1135.07 495.19M1374.83 430.96L1378.27 433.53M1383.41 426.3A188.3 188.3 0 0 1 1375.68 436.93M1381.45 421.1L1400.4 433.41M1383.41 426.3L1397.58 435.86M1398.38 434.67A205.4 205.4 0 0 1 1394.93 439.69M1397.18 436.45L1402.56 440.11M1394.93 439.69L1409.87 450.27M1375.6 436.87L1390.89 448.81M1393.75 445.07A207.6 207.6 0 0 1 1387.03 453.61M1393.75 445.07L1412.75 459.23M1387.03 453.61L1393.72 459.17M1394.44 458.29A216.3 216.3 0 0 1 1388.55 465.17M1394.44 458.29L1402.56 464.96M1403.31 464.04A226.8 226.8 0 0 1 1398.47 469.79M1403.31 464.04L1415.57 474M1398.47 469.79L1408.28 478.32M1388.55 465.17L1396.6 472.37M1397.39 471.48A227.1 227.1 0 0 1 1390.94 478.47M1397.39 471.48L1420.01 491.49M1421.49 489.8A257.3 257.3 0 0 1 1417.91 493.83M1390.94 478.47L1398.21 485.47M1337.86 464.05L1346.85 475.68M1354.27 469.66A195.5 195.5 0 0 1 1337.19 482.69M1354.27 469.66L1368.17 485.93M1337.19 482.69L1340.95 488.24M1352.62 479.68A202.2 202.2 0 0 1 1326.25 497.33M1352.62 479.68L1364.58 494.83M1326.25 497.33L1334.23 511.55M1242.94 544.65A224.2 224.2 0 0 1 1218.3 545.02M1126.3 485.82L1122.54 491.95M1152.84 507.16A200.5 200.5 0 0 1 1108.88 482.8M1151.54 510.41A204 204 0 0 1 1144.98 507.65M1118.42 497.29A207.2 207.2 0 0 1 1104.93 488.2M1131.06 502A205 205 0 0 1 1124.49 498.36M1099.04 468.55L1092.22 476.39M1098.56 481.69A205.9 205.9 0 0 1 1092.22 476.39M1092.49 476.63L1073.44 498.63M1101.16 485.38L1089.17 501.01M1102.6 486.48L1097.73 492.95M1108.88 482.8L1104.93 488.2M1108.45 490.73L1095.38 509.4M1110.24 491.96L1098.77 508.71M1115.47 487.42L1111.74 492.98M1118.42 497.29L1117.53 498.73M1118.46 499.31L1109.19 514.5M1120.75 490.85L1120.75 490.85M1124.49 498.36L1124.59 498.18M1125.73 499.07L1116.52 515.23M1129.19 498.72L1128.23 500.47M1130.96 502.18L1123.41 516.4M1138.15 500.59L1130.37 516.27M1142.88 502.86L1135.01 519.82M1146.59 503.99L1144.98 507.65M1146.61 508.36L1141.11 521.13M1149.56 509.61L1143.39 524.59M1151.54 510.41L1145.6 525.27M1066.27 431.68L1063.88 433.32M1063.66 433.89A198.8 198.8 0 0 1 1057.98 425.17M1057.98 425.17L1050.14 429.99M1052.27 433.37A208 208 0 0 1 1048.27 426.88M1048.27 426.88L1031.05 437.06M1052.27 433.37L1038.8 442.01M1064.07 433.6L1062.67 434.57M1070.43 446.67A201 201 0 0 1 1064.69 439.14M1070.21 446.4L1057.48 456.57M1067.2 442.52L1064.01 444.94M1064.69 439.14L1048.18 451.14M1050 454.6A222 222 0 0 1 1045.45 448.33M1050 454.6L1048.17 455.99M1045.45 448.33L1040.29 451.95M1029.06 434.48L1027.18 435.56M1026.93 431.03L1025.24 431.96M1024.85 427.54L1023.35 428.33M1022.84 424.01L1021.27 424.8M1020.88 420.44L1019.09 421.3M1018.99 416.83L1017.31 417.6M1017.17 413.19L1015.52 413.91M1015.4 409.51L1013.4 410.35M1013.7 405.8L1012.01 406.47M1012.07 402.06L1010.38 402.69M1010.5 398.28L1008.57 398.97M1009 394.48L1007.3 395.05M1007.56 390.65L1005.46 391.31M1006.19 386.78L1004.5 387.29M1004.89 382.9L1003.11 383.39M1003.66 378.98L1001.73 379.48M1002.5 375.05L1000.63 375.49M1001.4 371.08L999.39 371.53M1000.38 367.1L998.74 367.44M999.43 363.1L997.47 363.46M998.54 359.08L996.48 359.42M997.73 355.04L996.1 355.28M996.99 350.98L995.01 351.24M996.32 346.91L994.48 347.11M995.72 342.82L993.8 343M995.2 338.72L993.26 338.87M994.75 334.61L992.68 334.73M994.37 330.48L992.56 330.56M994.06 326.35L992.32 326.39M993.83 322.21L992.13 322.22M993.67 318.07L992.04 318.05M993.59 313.92L991.51 313.85M993.58 309.76L991.65 309.67M993.64 305.6L991.81 305.48M993.77 301.44L991.68 301.27M993.98 297.28L991.89 297.07M994.27 293.13L992.48 292.91M994.63 288.97L992.67 288.7M995.06 284.82L993.32 284.55M995.57 280.67L993.54 280.32M996.15 276.53L994.08 276.14M996.81 272.4L994.72 271.96M997.53 268.28L995.64 267.85M998.34 264.17L996.25 263.65M999.21 260.07L997.27 259.55M1000.16 255.98L998.48 255.5M1001.19 251.91L999.12 251.28M1002.28 247.85L1000.31 247.21M1003.45 243.82L1001.6 243.18M1004.69 239.8L1002.86 239.13" stroke="#231f20" stroke-width="1.15" fill="none" stroke-linecap="square"/>
<path d="M1126.69 260.31L1127.02 258.18L1127.4 256.04L1127.82 253.9M1079.88 505.67L1076.66 503.15L1073.48 500.57L1070.34 497.94L1067.25 495.25L1064.21 492.51L1061.21 489.72L1058.26 486.87L1055.36 483.97L1052.51 481.02L1049.71 478.02L1046.97 474.97L1044.27 471.88" stroke="#231f20" stroke-width="2.2" fill="none" stroke-linejoin="round"/>
<path d="M1106.12 221.81L1107.45 219.84L1108.82 217.89L1110.22 215.95L1111.65 214.03L1113.11 212.13L1114.61 210.26M1118.97 168.57L1121.19 166.95L1123.42 165.36L1125.68 163.8L1127.97 162.28L1130.27 160.79M1396.84 365.16L1396.26 368.05L1395.62 370.94L1394.94 373.82L1394.21 376.68L1393.42 379.54L1392.59 382.39L1391.71 385.23L1390.78 388.05L1389.81 390.86L1388.78 393.66L1387.71 396.44L1386.59 399.21L1385.42 401.96L1384.2 404.69L1382.94 407.4L1381.63 410.1" stroke="#231f20" stroke-width="1.9" fill="none" stroke-linejoin="round"/>
<path d="M1117.61 209.38L1118.98 207.35L1120.39 205.34L1121.83 203.35L1123.31 201.38" stroke="#231f20" stroke-width="1.8" fill="none" stroke-linejoin="round"/>
<path d="M1152.09 161.88L1154.52 160.66L1156.97 159.48L1159.44 158.33L1161.93 157.22L1164.44 156.15L1166.97 155.12L1169.51 154.12M1200.37 119.19L1203.72 118.77L1207.08 118.41L1210.44 118.1L1213.81 117.85L1217.18 117.65L1220.55 117.51M1222.12 135.67L1225.36 135.52L1228.6 135.43L1231.84 135.4L1235.08 135.42L1238.32 135.5L1241.56 135.64L1244.8 135.83L1248.04 136.08L1251.28 136.38L1254.51 136.75L1257.73 137.16L1260.95 137.64L1264.16 138.17L1267.37 138.76L1270.56 139.4L1273.75 140.1L1276.92 140.86L1280.08 141.67L1283.23 142.54L1286.36 143.46L1289.48 144.44L1292.58 145.47L1295.66 146.56L1298.73 147.7L1301.78 148.89L1304.81 150.14L1307.81 151.44L1310.8 152.8L1313.76 154.2L1316.7 155.66L1319.61 157.17L1322.5 158.74L1325.36 160.35L1328.2 162.01M1398.21 485.47L1395.68 488.5L1393.09 491.48L1390.44 494.43L1387.75 497.33M1368.79 491.42L1365.92 493.72L1363.02 495.97L1360.08 498.17L1357.1 500.32L1354.09 502.42L1351.05 504.47M1351.05 504.47L1348.14 505.9L1345.22 507.28L1342.28 508.62L1339.32 509.92L1336.36 511.17L1333.38 512.37M1030.59 436.87L1028.46 433.52L1026.38 430.13L1024.36 426.7L1022.4 423.23L1020.5 419.72L1018.66 416.18L1016.88 412.61L1015.17 409.01L1013.51 405.37L1011.92 401.7L1010.38 398L1008.92 394.27L1007.51 390.51L1006.17 386.73L1004.9 382.92L1003.69 379.09L1002.55 375.23L1001.48 371.36L1000.47 367.46L999.53 363.54L998.65 359.6L997.85 355.65L997.11 351.67L996.44 347.69L995.84 343.69L995.32 339.67L994.86 335.65L994.47 331.61L994.15 327.57L993.9 323.52L993.72 319.46L993.61 315.39L993.57 311.32L993.6 307.25L993.71 303.18L993.88 299.1L994.13 295.03L994.45 290.96L994.84 286.89L995.3 282.83L995.83 278.77L996.43 274.72L997.1 270.68L997.84 266.64L998.66 262.62L999.54 258.61L1000.5 254.61L1001.52 250.63L1002.62 246.66L1003.79 242.71L1005.02 238.78" stroke="#231f20" stroke-width="2" fill="none" stroke-linejoin="round"/>
<path d="M1357.5 173.83L1360.27 175.69L1363 177.6L1365.71 179.56L1368.4 181.57L1371.05 183.63L1373.67 185.74L1376.27 187.9L1378.83 190.11L1381.36 192.37L1383.86 194.67L1386.32 197.03L1388.75 199.43L1391.14 201.88L1393.49 204.37L1395.81 206.91M1399.39 295.28L1399.9 298.17L1400.37 301.06L1400.79 303.97L1401.16 306.88L1401.48 309.8L1401.75 312.73L1401.97 315.66L1402.14 318.6L1402.26 321.55L1402.34 324.49L1402.36 327.44L1402.33 330.39L1402.26 333.34L1402.13 336.3" stroke="#231f20" stroke-width="1.6" fill="none" stroke-linejoin="round"/>
<path d="M1384.18 250.49L1385.53 253.12L1386.83 255.77L1388.09 258.45L1389.3 261.15L1390.47 263.88L1391.59 266.63L1392.66 269.4L1393.69 272.19L1394.67 275L1395.6 277.83L1396.49 280.67L1397.32 283.54L1398.11 286.42L1398.85 289.32L1399.54 292.23L1400.18 295.16" stroke="#231f20" stroke-width="1.7" fill="none" stroke-linejoin="round"/>
<path d="M1402.13 336.3L1401.99 339.09L1401.8 341.88L1401.57 344.67L1401.29 347.45L1400.97 350.24L1400.6 353.02L1400.19 355.79L1399.73 358.56L1399.23 361.33" stroke="#231f20" stroke-width="1.5" fill="none" stroke-linejoin="round"/>
<path d="M1380.2 384.33L1378.95 386.82L1377.65 389.29L1376.32 391.73L1374.95 394.15L1373.53 396.54L1372.08 398.9L1370.59 401.23L1369.07 403.54L1367.5 405.82L1365.9 408.07L1364.27 410.29M1374.08 409.89L1372.79 412.33L1371.45 414.76L1370.08 417.16L1368.66 419.54L1367.21 421.91L1365.71 424.25L1364.18 426.57L1362.61 428.86L1361 431.13L1359.35 433.38M1377.75 415.75L1376.17 418.24L1374.54 420.71L1372.87 423.15L1371.16 425.57L1369.41 427.95L1367.62 430.31L1365.79 432.63L1363.93 434.93L1362.02 437.19L1360.08 439.42L1358.1 441.62L1356.08 443.79L1354.03 445.92L1351.95 448.02L1349.82 450.09L1347.67 452.12L1345.48 454.11M1380.57 422.45L1378.83 425.09L1377.05 427.71L1375.22 430.3L1373.34 432.85L1371.43 435.38L1369.47 437.87L1367.46 440.32L1365.41 442.75L1363.33 445.13L1361.2 447.48L1359.03 449.8L1356.81 452.08L1354.56 454.32L1352.28 456.52L1349.95 458.68L1347.59 460.8L1345.18 462.88L1342.75 464.92L1340.28 466.92L1337.77 468.88L1335.23 470.79L1332.65 472.66L1330.05 474.48M1348.39 458.35L1346.09 460.54L1343.75 462.7L1341.37 464.82L1338.95 466.91L1336.5 468.95L1334.01 470.94L1331.48 472.9L1328.92 474.82L1326.32 476.69L1323.68 478.51L1321.02 480.3L1318.32 482.03L1315.58 483.73L1312.82 485.37L1310.03 486.97L1307.2 488.52M1330.05 474.48L1327.64 476.24L1325.21 477.96L1322.74 479.63L1320.25 481.28L1317.73 482.88L1315.18 484.44L1312.6 485.96L1310 487.44L1307.38 488.88M1329.91 479.01L1327.21 480.73L1324.47 482.4L1321.71 484.03L1318.92 485.61L1316.1 487.14L1313.26 488.63L1310.4 490.06L1307.51 491.45L1304.59 492.79L1301.66 494.07L1298.7 495.31L1295.72 496.5L1292.73 497.64L1289.71 498.72L1286.68 499.75L1283.63 500.74L1280.56 501.67L1277.48 502.54L1274.38 503.37L1271.27 504.14L1268.14 504.86L1265.01 505.53L1261.86 506.14L1258.71 506.7L1255.54 507.2L1252.37 507.65L1249.19 508.05L1246 508.39L1242.81 508.68L1239.62 508.91L1236.42 509.09L1233.21 509.22L1230.01 509.29L1226.81 509.3L1223.6 509.27L1220.4 509.17M1308.62 491.5L1305.68 492.91L1302.71 494.26L1299.72 495.57L1296.71 496.82L1293.67 498.02L1290.62 499.17L1287.54 500.27L1284.44 501.31L1281.33 502.3L1278.2 503.24L1275.05 504.12L1271.89 504.95L1268.72 505.72L1265.53 506.44L1262.32 507.11L1259.11 507.71L1255.89 508.27L1252.65 508.76L1249.41 509.21M1099.94 479.97L1102.28 482.76L1104.68 485.51L1107.13 488.23L1109.65 490.91L1112.22 493.56L1114.85 496.17L1117.53 498.73" stroke="#231f20" stroke-width="1.2" fill="none" stroke-linejoin="round"/>
<path d="M1333.38 512.37L1330.21 514.23L1327 516.04L1323.77 517.8L1320.5 519.51L1317.2 521.16L1313.88 522.76L1310.52 524.3L1307.14 525.79L1303.73 527.22L1300.3 528.59L1296.84 529.9L1293.36 531.16L1289.86 532.36L1286.33 533.5L1282.79 534.59L1279.22 535.61L1275.63 536.57L1272.03 537.48L1268.41 538.32L1264.78 539.1L1261.13 539.83L1257.46 540.49L1253.79 541.09L1250.1 541.63M1250.1 541.63L1246.35 542.21L1242.59 542.73L1238.81 543.19L1235.03 543.58L1231.23 543.91L1227.43 544.18L1223.62 544.38L1219.8 544.51L1215.97 544.58L1212.14 544.58L1208.31 544.52L1204.48 544.39L1200.64 544.2L1196.81 543.94L1192.97 543.61L1189.14 543.22L1185.31 542.76L1181.48 542.24L1177.66 541.65L1173.85 540.99L1170.05 540.27L1166.25 539.48L1162.47 538.63L1158.69 537.71L1154.93 536.73L1151.19 535.68L1147.45 534.56" stroke="#231f20" stroke-width="2.4" fill="none" stroke-linejoin="round"/>
<path d="M1237.71 550.16L1234.24 550.3L1230.77 550.37L1227.3 550.4L1223.83 550.37L1220.36 550.3L1216.89 550.16" stroke="#231f20" stroke-width="1.4" fill="none" stroke-linejoin="round"/>
<circle cx="1294.34" cy="18.75" r="3.45" fill="#ec2a7f" stroke="#231f20" stroke-width="0.75"/>
<circle cx="1300.01" cy="20.06" r="3.45" fill="#ec2a7f" stroke="#231f20" stroke-width="0.75"/>
<circle cx="1305.36" cy="21.4" r="3.45" fill="#ec2a7f" stroke="#231f20" stroke-width="0.75"/>
<circle cx="1310.82" cy="22.88" r="3.45" fill="#ec2a7f" stroke="#231f20" stroke-width="0.75"/>
<circle cx="1316.2" cy="24.44" r="3.45" fill="#ec2a7f" stroke="#231f20" stroke-width="0.75"/>
<circle cx="1345.95" cy="35.04" r="3.45" fill="#ec2a7f" stroke="#231f20" stroke-width="0.75"/>
<circle cx="1351.4" cy="37.36" r="3.45" fill="#ec2a7f" stroke="#231f20" stroke-width="0.75"/>
<circle cx="1365.36" cy="43.89" r="3.45" fill="#ec2a7f" stroke="#231f20" stroke-width="0.75"/>
<circle cx="1370.23" cy="46.37" r="3.45" fill="#ec2a7f" stroke="#231f20" stroke-width="0.75"/>
<circle cx="1375.24" cy="49.04" r="3.45" fill="#ec2a7f" stroke="#231f20" stroke-width="0.75"/>
<circle cx="1380.19" cy="51.79" r="3.45" fill="#ec2a7f" stroke="#231f20" stroke-width="0.75"/>
<circle cx="1384.67" cy="54.38" r="3.45" fill="#ec2a7f" stroke="#231f20" stroke-width="0.75"/>
<circle cx="1388.79" cy="56.85" r="3.45" fill="#ec2a7f" stroke="#231f20" stroke-width="0.75"/>
<circle cx="1393.66" cy="59.89" r="3.45" fill="#ec2a7f" stroke="#231f20" stroke-width="0.75"/>
<circle cx="1057.72" cy="61.97" r="3.45" fill="#ec2a7f" stroke="#231f20" stroke-width="0.75"/>
<circle cx="1488.13" cy="154.21" r="3.45" fill="#ec2a7f" stroke="#231f20" stroke-width="0.75"/>
<circle cx="918.45" cy="299.41" r="3.45" fill="#ec2a7f" stroke="#231f20" stroke-width="0.75"/>
<circle cx="948.55" cy="455.73" r="3.45" fill="#ec2a7f" stroke="#231f20" stroke-width="0.75"/>
<circle cx="1363.47" cy="599.04" r="3.45" fill="#ec2a7f" stroke="#231f20" stroke-width="0.75"/>
<circle cx="1369.03" cy="596.26" r="3.45" fill="#ec2a7f" stroke="#231f20" stroke-width="0.75"/>
<circle cx="1225.25" cy="5.01" r="3.45" fill="#fbae3c" stroke="#231f20" stroke-width="0.75"/>
<circle cx="1285.28" cy="10.36" r="3.45" fill="#fbae3c" stroke="#231f20" stroke-width="0.75"/>
<circle cx="1296.09" cy="12.58" r="3.45" fill="#fbae3c" stroke="#231f20" stroke-width="0.75"/>
<circle cx="1301.61" cy="13.86" r="3.45" fill="#fbae3c" stroke="#231f20" stroke-width="0.75"/>
<circle cx="1307.09" cy="15.24" r="3.45" fill="#fbae3c" stroke="#231f20" stroke-width="0.75"/>
<circle cx="1312.09" cy="16.59" r="3.45" fill="#fbae3c" stroke="#231f20" stroke-width="0.75"/>
<circle cx="1317.78" cy="18.23" r="3.45" fill="#fbae3c" stroke="#231f20" stroke-width="0.75"/>
<circle cx="1348.59" cy="29.2" r="3.45" fill="#fbae3c" stroke="#231f20" stroke-width="0.75"/>
<circle cx="1353.73" cy="31.4" r="3.45" fill="#fbae3c" stroke="#231f20" stroke-width="0.75"/>
<circle cx="1368.18" cy="38.14" r="3.45" fill="#fbae3c" stroke="#231f20" stroke-width="0.75"/>
<circle cx="1373.36" cy="40.78" r="3.45" fill="#fbae3c" stroke="#231f20" stroke-width="0.75"/>
<circle cx="1378.11" cy="43.31" r="3.45" fill="#fbae3c" stroke="#231f20" stroke-width="0.75"/>
<circle cx="1382.84" cy="45.93" r="3.45" fill="#fbae3c" stroke="#231f20" stroke-width="0.75"/>
<circle cx="1387.96" cy="48.89" r="3.45" fill="#fbae3c" stroke="#231f20" stroke-width="0.75"/>
<circle cx="1392.3" cy="51.5" r="3.45" fill="#fbae3c" stroke="#231f20" stroke-width="0.75"/>
<circle cx="1397.1" cy="54.5" r="3.45" fill="#fbae3c" stroke="#231f20" stroke-width="0.75"/>
<circle cx="1036.26" cy="69.29" r="3.45" fill="#fbae3c" stroke="#231f20" stroke-width="0.75"/>
<circle cx="1040.94" cy="65.8" r="3.45" fill="#fbae3c" stroke="#231f20" stroke-width="0.75"/>
<circle cx="959.06" cy="153.95" r="3.45" fill="#fbae3c" stroke="#231f20" stroke-width="0.75"/>
<circle cx="1366.3" cy="604.79" r="3.45" fill="#fbae3c" stroke="#231f20" stroke-width="0.75"/>
<circle cx="1371.89" cy="601.98" r="3.45" fill="#fbae3c" stroke="#231f20" stroke-width="0.75"/>
<g font-family="'Liberation Sans', Arial, sans-serif" fill="#231f20">
<text x="914.8" y="28.6" font-size="40" text-anchor="start" font-weight="bold" textLength="25.8" lengthAdjust="spacingAndGlyphs" stroke="#231f20" stroke-width="0.9">b</text>
<text x="1469.2" y="37.8" font-size="27.5" text-anchor="start" font-weight="normal" textLength="124" lengthAdjust="spacingAndGlyphs">Tolerance</text>
<defs><linearGradient id="tg" x1="0" y1="0" x2="0" y2="1"><stop offset="0" stop-color="#f4f4f4"/><stop offset="0.25" stop-color="#d2d3d5"/><stop offset="0.5" stop-color="#a2a3a5"/><stop offset="0.75" stop-color="#5e5e60"/><stop offset="1" stop-color="#231f20"/></linearGradient></defs>
<rect x="1469.6" y="52.8" width="29.9" height="52.2" fill="url(#tg)" stroke="#6d6e70" stroke-width="0.9"/>
<text x="1510.6" y="66.2" font-size="23" text-anchor="start" font-weight="normal" textLength="50.8" lengthAdjust="spacingAndGlyphs">High</text>
<text x="1511.6" y="100.8" font-size="23" text-anchor="start" font-weight="normal" textLength="43" lengthAdjust="spacingAndGlyphs">Low</text>
<text x="1462" y="555.9" font-size="27.5" text-anchor="start" font-weight="normal" textLength="129.6" lengthAdjust="spacingAndGlyphs">High-level</text>
<text x="1462" y="587.7" font-size="27.5" text-anchor="start" font-weight="normal" textLength="130.8" lengthAdjust="spacingAndGlyphs">resistance</text>
<circle cx="1475.9" cy="609.7" r="5.8" fill="#ec2a7f" stroke="#231f20" stroke-width="1"/>
<circle cx="1475.9" cy="634.3" r="5.8" fill="#fbae3c" stroke="#231f20" stroke-width="1"/>
<text x="1496.6" y="615.6" font-size="21.5" text-anchor="start" font-weight="normal" textLength="109" lengthAdjust="spacingAndGlyphs">Macrolide</text>
<text x="1497.8" y="640.2" font-size="21.5" text-anchor="start" font-weight="normal" textLength="96" lengthAdjust="spacingAndGlyphs">Aminogl.</text>
<text x="1124" y="391.9" font-size="27.5" text-anchor="start" font-weight="normal" textLength="128.2" lengthAdjust="spacingAndGlyphs">Tree scale</text>
<text x="1271.4" y="406" font-size="27.5" text-anchor="start" font-weight="normal" textLength="31.3" lengthAdjust="spacingAndGlyphs">0.1</text>
</g>
<path d="M1264.3 376.1H1314.2M1264.3 372.9V379.3M1314.2 372.9V379.3" stroke="#58595b" stroke-width="1.5" fill="none"/>
</svg></body></html>
